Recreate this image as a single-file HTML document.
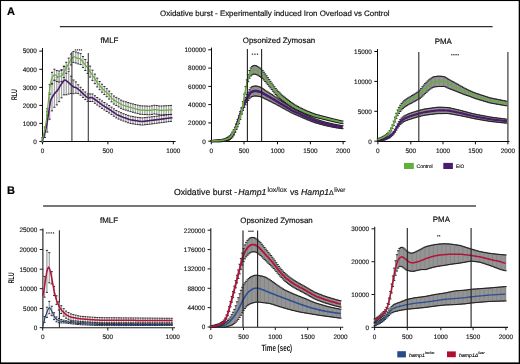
<!DOCTYPE html>
<html><head><meta charset="utf-8"><style>
html,body{margin:0;padding:0;background:#fff;}
body{width:520px;height:364px;overflow:hidden;font-family:"Liberation Sans",sans-serif;}
svg{display:block;will-change:transform;}
</style></head><body>
<svg width="520" height="364" viewBox="0 0 520 364" font-family="'Liberation Sans', sans-serif" text-rendering="geometricPrecision">
<text x="7.00" y="14.50" font-size="11.00" text-anchor="start" font-weight="bold" fill="#000" stroke="#000" stroke-width="0.18" >A</text>
<text x="160.10" y="15.60" font-size="7.90" text-anchor="start" font-weight="normal" fill="#111" stroke="#111" stroke-width="0.18" textLength="229.5" lengthAdjust="spacingAndGlyphs">Oxidative burst - Experimentally induced Iron Overload vs Control</text>
<path d="M59.8,26.55H492.6" stroke="#2e2e2e" stroke-width="1.25"/>
<text x="109.40" y="42.70" font-size="7.90" text-anchor="middle" font-weight="normal" fill="#111" stroke="#111" stroke-width="0.18" >fMLF</text>
<text x="279.00" y="42.60" font-size="7.90" text-anchor="middle" font-weight="normal" fill="#111" stroke="#111" stroke-width="0.18" >Opsonized Zymosan</text>
<text x="443.20" y="43.60" font-size="7.90" text-anchor="middle" font-weight="normal" fill="#111" stroke="#111" stroke-width="0.18" >PMA</text>
<path d="M42.50,48.10V142.00" stroke="#0a0a0a" stroke-width="1.0" fill="none"/>
<path d="M42.00,141.50H175.60" stroke="#0a0a0a" stroke-width="1.0" fill="none"/>
<path d="M39.30,141.40H42.50M39.30,123.40H42.50M39.30,105.40H42.50M39.30,87.40H42.50M39.30,69.30H42.50M39.30,51.10H42.50" stroke="#0a0a0a" stroke-width="1.0" fill="none"/>
<path d="M42.50,141.50V144.30M107.90,141.50V144.30M173.30,141.50V144.30" stroke="#0a0a0a" stroke-width="1.0" fill="none"/>
<text x="36.90" y="143.70" font-size="6.40" text-anchor="end" font-weight="normal" fill="#1a1a1a" stroke="#1a1a1a" stroke-width="0.15" >0</text>
<text x="36.90" y="125.70" font-size="6.40" text-anchor="end" font-weight="normal" fill="#1a1a1a" stroke="#1a1a1a" stroke-width="0.15" >1000</text>
<text x="36.90" y="107.70" font-size="6.40" text-anchor="end" font-weight="normal" fill="#1a1a1a" stroke="#1a1a1a" stroke-width="0.15" >2000</text>
<text x="36.90" y="89.70" font-size="6.40" text-anchor="end" font-weight="normal" fill="#1a1a1a" stroke="#1a1a1a" stroke-width="0.15" >3000</text>
<text x="36.90" y="71.60" font-size="6.40" text-anchor="end" font-weight="normal" fill="#1a1a1a" stroke="#1a1a1a" stroke-width="0.15" >4000</text>
<text x="36.90" y="53.40" font-size="6.40" text-anchor="end" font-weight="normal" fill="#1a1a1a" stroke="#1a1a1a" stroke-width="0.15" >5000</text>
<text x="42.50" y="153.00" font-size="6.40" text-anchor="middle" font-weight="normal" fill="#1a1a1a" stroke="#1a1a1a" stroke-width="0.15" >0</text>
<text x="107.90" y="153.00" font-size="6.40" text-anchor="middle" font-weight="normal" fill="#1a1a1a" stroke="#1a1a1a" stroke-width="0.15" >500</text>
<text x="173.30" y="153.00" font-size="6.40" text-anchor="middle" font-weight="normal" fill="#1a1a1a" stroke="#1a1a1a" stroke-width="0.15" >1000</text>
<path d="M42.50,137.75V142.16M44.88,128.07V137.52M47.26,111.36V132.07M49.64,92.95V119.22M52.02,84.16V110.83M54.40,80.24V107.31M56.78,77.45V104.91M59.16,73.80V101.66M61.54,69.63V97.89M63.92,66.17V94.82M66.30,66.76V94.84M68.68,71.26V94.09M71.06,76.16V93.53M73.44,80.00V93.72M75.82,81.87V93.14M78.20,84.78V93.62M80.58,87.29V95.20M82.96,89.65V97.42M85.34,91.95V99.59M87.72,93.88V101.46M90.10,93.90V101.47M92.48,94.01V101.57M94.86,95.75V103.29M97.24,97.51V105.03M99.62,99.22V106.73M102.00,100.94V108.43M104.38,102.53V110.00M106.76,104.04V111.49M109.14,105.54V112.98M111.52,107.15V114.58M113.90,108.83V116.23M116.28,110.50V117.89M118.66,111.70V119.08M121.04,112.70V120.06M123.42,113.68V121.02M125.80,114.54V121.86M128.18,115.40V122.70M130.56,116.14V123.44M132.94,116.57V123.84M135.32,116.98V124.24M137.70,117.36V124.60M140.08,117.66V124.88M142.46,117.83V125.04M144.84,117.58V124.78M147.22,117.32V124.50M149.60,117.06V124.22M151.98,116.77V123.92M154.36,116.47V123.60M156.74,116.17V123.28M159.12,115.87V122.96M161.50,115.56V122.64M163.88,115.26V122.32M166.26,114.96V122.00M168.64,114.66V121.69M171.02,114.35V121.37" stroke="#c0c0c0" stroke-width="1.3" fill="none"/>
<path d="M42.50,137.75V142.16M44.88,128.07V137.52M47.26,111.36V132.07M49.64,92.95V119.22M52.02,84.16V110.83M54.40,80.24V107.31M56.78,77.45V104.91M59.16,73.80V101.66M61.54,69.63V97.89M63.92,66.17V94.82M66.30,66.76V94.84M68.68,71.26V94.09M71.06,76.16V93.53M73.44,80.00V93.72M75.82,81.87V93.14M78.20,84.78V93.62M80.58,87.29V95.20M82.96,89.65V97.42M85.34,91.95V99.59M87.72,93.88V101.46M90.10,93.90V101.47M92.48,94.01V101.57M94.86,95.75V103.29M97.24,97.51V105.03M99.62,99.22V106.73M102.00,100.94V108.43M104.38,102.53V110.00M106.76,104.04V111.49M109.14,105.54V112.98M111.52,107.15V114.58M113.90,108.83V116.23M116.28,110.50V117.89M118.66,111.70V119.08M121.04,112.70V120.06M123.42,113.68V121.02M125.80,114.54V121.86M128.18,115.40V122.70M130.56,116.14V123.44M132.94,116.57V123.84M135.32,116.98V124.24M137.70,117.36V124.60M140.08,117.66V124.88M142.46,117.83V125.04M144.84,117.58V124.78M147.22,117.32V124.50M149.60,117.06V124.22M151.98,116.77V123.92M154.36,116.47V123.60M156.74,116.17V123.28M159.12,115.87V122.96M161.50,115.56V122.64M163.88,115.26V122.32M166.26,114.96V122.00M168.64,114.66V121.69M171.02,114.35V121.37" stroke="#6a6a6a" stroke-width="0.35" fill="none"/>
<path d="M41.45,137.75h2.10M41.45,142.16h2.10M43.83,128.07h2.10M43.83,137.52h2.10M46.21,111.36h2.10M46.21,132.07h2.10M48.59,92.95h2.10M48.59,119.22h2.10M50.97,84.16h2.10M50.97,110.83h2.10M53.35,80.24h2.10M53.35,107.31h2.10M55.73,77.45h2.10M55.73,104.91h2.10M58.11,73.80h2.10M58.11,101.66h2.10M60.49,69.63h2.10M60.49,97.89h2.10M62.87,66.17h2.10M62.87,94.82h2.10M65.25,66.76h2.10M65.25,94.84h2.10M67.63,71.26h2.10M67.63,94.09h2.10M70.01,76.16h2.10M70.01,93.53h2.10M72.39,80.00h2.10M72.39,93.72h2.10M74.77,81.87h2.10M74.77,93.14h2.10M77.15,84.78h2.10M77.15,93.62h2.10M79.53,87.29h2.10M79.53,95.20h2.10M81.91,89.65h2.10M81.91,97.42h2.10M84.29,91.95h2.10M84.29,99.59h2.10M86.67,93.88h2.10M86.67,101.46h2.10M89.05,93.90h2.10M89.05,101.47h2.10M91.43,94.01h2.10M91.43,101.57h2.10M93.81,95.75h2.10M93.81,103.29h2.10M96.19,97.51h2.10M96.19,105.03h2.10M98.57,99.22h2.10M98.57,106.73h2.10M100.95,100.94h2.10M100.95,108.43h2.10M103.33,102.53h2.10M103.33,110.00h2.10M105.71,104.04h2.10M105.71,111.49h2.10M108.09,105.54h2.10M108.09,112.98h2.10M110.47,107.15h2.10M110.47,114.58h2.10M112.85,108.83h2.10M112.85,116.23h2.10M115.23,110.50h2.10M115.23,117.89h2.10M117.61,111.70h2.10M117.61,119.08h2.10M119.99,112.70h2.10M119.99,120.06h2.10M122.37,113.68h2.10M122.37,121.02h2.10M124.75,114.54h2.10M124.75,121.86h2.10M127.13,115.40h2.10M127.13,122.70h2.10M129.51,116.14h2.10M129.51,123.44h2.10M131.89,116.57h2.10M131.89,123.84h2.10M134.27,116.98h2.10M134.27,124.24h2.10M136.65,117.36h2.10M136.65,124.60h2.10M139.03,117.66h2.10M139.03,124.88h2.10M141.41,117.83h2.10M141.41,125.04h2.10M143.79,117.58h2.10M143.79,124.78h2.10M146.17,117.32h2.10M146.17,124.50h2.10M148.55,117.06h2.10M148.55,124.22h2.10M150.93,116.77h2.10M150.93,123.92h2.10M153.31,116.47h2.10M153.31,123.60h2.10M155.69,116.17h2.10M155.69,123.28h2.10M158.07,115.87h2.10M158.07,122.96h2.10M160.45,115.56h2.10M160.45,122.64h2.10M162.83,115.26h2.10M162.83,122.32h2.10M165.21,114.96h2.10M165.21,122.00h2.10M167.59,114.66h2.10M167.59,121.69h2.10M169.97,114.35h2.10M169.97,121.37h2.10" stroke="#1a1a1a" stroke-width="0.9" fill="none"/>
<path d="M42.50,139.95 L43.50,137.47 L44.50,134.16 L45.50,130.50 L46.50,126.02 L47.50,120.30 L48.50,114.01 L49.50,107.01 L50.50,101.09 L51.50,98.39 L52.50,96.73 L53.50,95.15 L54.50,93.63 L55.50,92.44 L56.50,91.46 L57.50,90.40 L58.50,88.88 L59.50,87.14 L60.50,85.39 L61.50,83.82 L62.50,82.42 L63.50,81.03 L64.50,79.97 L65.50,80.20 L66.50,80.95 L67.50,81.71 L68.50,82.52 L69.50,83.41 L70.50,84.33 L71.50,85.25 L72.50,86.17 L73.50,86.90 L74.50,87.17 L75.50,87.37 L76.50,87.89 L77.50,88.65 L78.50,89.44 L79.50,90.25 L80.50,91.17 L81.50,92.13 L82.50,93.09 L83.50,94.06 L84.50,95.01 L85.50,95.91 L86.50,96.75 L87.50,97.55 L88.50,97.89 L89.50,97.77 L90.50,97.63 L91.50,97.50 L92.50,97.80 L93.50,98.51 L94.50,99.25 L95.50,99.99 L96.50,100.73 L97.50,101.46 L98.50,102.17 L99.50,102.89 L100.50,103.61 L101.50,104.32 L102.50,105.04 L103.50,105.71 L104.50,106.34 L105.50,106.97 L106.50,107.60 L107.50,108.23 L108.50,108.86 L109.50,109.49 L110.50,110.15 L111.50,110.85 L112.50,111.55 L113.50,112.25 L114.50,112.95 L115.50,113.65 L116.50,114.34 L117.50,114.90 L118.50,115.32 L119.50,115.74 L120.50,116.16 L121.50,116.57 L122.50,116.99 L123.50,117.38 L124.50,117.74 L125.50,118.09 L126.50,118.45 L127.50,118.81 L128.50,119.16 L129.50,119.52 L130.50,119.78 L131.50,119.96 L132.50,120.13 L133.50,120.30 L134.50,120.47 L135.50,120.64 L136.50,120.81 L137.50,120.96 L138.50,121.08 L139.50,121.20 L140.50,121.32 L141.50,121.43 L142.50,121.44 L143.50,121.33 L144.50,121.22 L145.50,121.11 L146.50,120.99 L147.50,120.88 L148.50,120.77 L149.50,120.66 L150.50,120.53 L151.50,120.40 L152.50,120.27 L153.50,120.14 L154.50,120.01 L155.50,119.89 L156.50,119.76 L157.50,119.63 L158.50,119.49 L159.50,119.36 L160.50,119.23 L161.50,119.10 L162.50,118.97 L163.50,118.84 L164.50,118.71 L165.50,118.58 L166.50,118.45 L167.50,118.32 L168.50,118.19 L169.50,118.06 L170.50,117.93 L171.50,117.80 L172.50,117.67" stroke="#4b1c6c" stroke-width="1.6" fill="none" stroke-linejoin="round"/>
<path d="M42.50,138.04V140.14M44.88,126.92V130.29M47.26,108.77V115.27M49.64,84.73V94.37M52.02,72.34V83.33M54.40,69.19V80.19M56.78,70.56V81.56M59.16,71.01V82.01M61.54,70.37V81.37M63.92,66.55V77.55M66.30,62.29V73.29M68.68,58.10V69.10M71.06,54.01V65.01M73.44,51.41V62.41M75.82,52.00V63.00M78.20,52.86V63.86M80.58,53.59V64.59M82.96,56.57V67.57M85.34,59.51V70.51M87.72,62.44V73.44M90.10,66.09V77.01M92.48,70.15V80.41M94.86,74.11V83.65M97.24,78.13V86.96M99.62,81.56V89.69M102.00,84.20V92.20M104.38,86.56V94.56M106.76,88.70V96.70M109.14,91.08V99.08M111.52,93.79V101.82M113.90,95.99V104.06M116.28,97.38V105.48M118.66,98.76V106.90M121.04,100.15V108.32M123.42,101.14V109.35M125.80,101.86V110.11M128.18,102.59V110.88M130.56,103.29V111.61M132.94,103.91V112.28M135.32,104.54V112.94M137.70,105.16V113.60M140.08,105.73V114.21M142.46,105.87V114.38M144.84,105.97V114.52M147.22,106.07V114.66M149.60,106.15V114.78M151.98,105.77V114.44M154.36,105.29V113.99M156.74,105.48V114.22M159.12,105.93V114.71M161.50,106.01V114.83M163.88,105.86V114.72M166.26,105.72V114.61M168.64,105.57V114.50M171.02,105.42V114.39" stroke="#c0c0c0" stroke-width="1.3" fill="none"/>
<path d="M42.50,138.04V140.14M44.88,126.92V130.29M47.26,108.77V115.27M49.64,84.73V94.37M52.02,72.34V83.33M54.40,69.19V80.19M56.78,70.56V81.56M59.16,71.01V82.01M61.54,70.37V81.37M63.92,66.55V77.55M66.30,62.29V73.29M68.68,58.10V69.10M71.06,54.01V65.01M73.44,51.41V62.41M75.82,52.00V63.00M78.20,52.86V63.86M80.58,53.59V64.59M82.96,56.57V67.57M85.34,59.51V70.51M87.72,62.44V73.44M90.10,66.09V77.01M92.48,70.15V80.41M94.86,74.11V83.65M97.24,78.13V86.96M99.62,81.56V89.69M102.00,84.20V92.20M104.38,86.56V94.56M106.76,88.70V96.70M109.14,91.08V99.08M111.52,93.79V101.82M113.90,95.99V104.06M116.28,97.38V105.48M118.66,98.76V106.90M121.04,100.15V108.32M123.42,101.14V109.35M125.80,101.86V110.11M128.18,102.59V110.88M130.56,103.29V111.61M132.94,103.91V112.28M135.32,104.54V112.94M137.70,105.16V113.60M140.08,105.73V114.21M142.46,105.87V114.38M144.84,105.97V114.52M147.22,106.07V114.66M149.60,106.15V114.78M151.98,105.77V114.44M154.36,105.29V113.99M156.74,105.48V114.22M159.12,105.93V114.71M161.50,106.01V114.83M163.88,105.86V114.72M166.26,105.72V114.61M168.64,105.57V114.50M171.02,105.42V114.39" stroke="#6a6a6a" stroke-width="0.35" fill="none"/>
<path d="M41.45,138.04h2.10M41.45,140.14h2.10M43.83,126.92h2.10M43.83,130.29h2.10M46.21,108.77h2.10M46.21,115.27h2.10M48.59,84.73h2.10M48.59,94.37h2.10M50.97,72.34h2.10M50.97,83.33h2.10M53.35,69.19h2.10M53.35,80.19h2.10M55.73,70.56h2.10M55.73,81.56h2.10M58.11,71.01h2.10M58.11,82.01h2.10M60.49,70.37h2.10M60.49,81.37h2.10M62.87,66.55h2.10M62.87,77.55h2.10M65.25,62.29h2.10M65.25,73.29h2.10M67.63,58.10h2.10M67.63,69.10h2.10M70.01,54.01h2.10M70.01,65.01h2.10M72.39,51.41h2.10M72.39,62.41h2.10M74.77,52.00h2.10M74.77,63.00h2.10M77.15,52.86h2.10M77.15,63.86h2.10M79.53,53.59h2.10M79.53,64.59h2.10M81.91,56.57h2.10M81.91,67.57h2.10M84.29,59.51h2.10M84.29,70.51h2.10M86.67,62.44h2.10M86.67,73.44h2.10M89.05,66.09h2.10M89.05,77.01h2.10M91.43,70.15h2.10M91.43,80.41h2.10M93.81,74.11h2.10M93.81,83.65h2.10M96.19,78.13h2.10M96.19,86.96h2.10M98.57,81.56h2.10M98.57,89.69h2.10M100.95,84.20h2.10M100.95,92.20h2.10M103.33,86.56h2.10M103.33,94.56h2.10M105.71,88.70h2.10M105.71,96.70h2.10M108.09,91.08h2.10M108.09,99.08h2.10M110.47,93.79h2.10M110.47,101.82h2.10M112.85,95.99h2.10M112.85,104.06h2.10M115.23,97.38h2.10M115.23,105.48h2.10M117.61,98.76h2.10M117.61,106.90h2.10M119.99,100.15h2.10M119.99,108.32h2.10M122.37,101.14h2.10M122.37,109.35h2.10M124.75,101.86h2.10M124.75,110.11h2.10M127.13,102.59h2.10M127.13,110.88h2.10M129.51,103.29h2.10M129.51,111.61h2.10M131.89,103.91h2.10M131.89,112.28h2.10M134.27,104.54h2.10M134.27,112.94h2.10M136.65,105.16h2.10M136.65,113.60h2.10M139.03,105.73h2.10M139.03,114.21h2.10M141.41,105.87h2.10M141.41,114.38h2.10M143.79,105.97h2.10M143.79,114.52h2.10M146.17,106.07h2.10M146.17,114.66h2.10M148.55,106.15h2.10M148.55,114.78h2.10M150.93,105.77h2.10M150.93,114.44h2.10M153.31,105.29h2.10M153.31,113.99h2.10M155.69,105.48h2.10M155.69,114.22h2.10M158.07,105.93h2.10M158.07,114.71h2.10M160.45,106.01h2.10M160.45,114.83h2.10M162.83,105.86h2.10M162.83,114.72h2.10M165.21,105.72h2.10M165.21,114.61h2.10M167.59,105.57h2.10M167.59,114.50h2.10M169.97,105.42h2.10M169.97,114.39h2.10" stroke="#1a1a1a" stroke-width="0.9" fill="none"/>
<path d="M42.50,139.09 L43.50,135.06 L44.50,130.37 L45.50,125.64 L46.50,119.06 L47.50,109.69 L48.50,99.92 L49.50,90.65 L50.50,83.63 L51.50,79.14 L52.50,77.03 L53.50,75.55 L54.50,74.62 L55.50,75.07 L56.50,75.85 L57.50,76.52 L58.50,76.63 L59.50,76.45 L60.50,76.25 L61.50,75.91 L62.50,74.66 L63.50,72.83 L64.50,70.99 L65.50,69.20 L66.50,67.44 L67.50,65.68 L68.50,63.92 L69.50,62.16 L70.50,60.42 L71.50,58.88 L72.50,57.75 L73.50,56.86 L74.50,56.81 L75.50,57.33 L76.50,57.86 L77.50,58.24 L78.50,58.41 L79.50,58.57 L80.50,59.01 L81.50,60.16 L82.50,61.47 L83.50,62.76 L84.50,63.99 L85.50,65.21 L86.50,66.43 L87.50,67.65 L88.50,69.02 L89.50,70.59 L90.50,72.19 L91.50,73.78 L92.50,75.31 L93.50,76.82 L94.50,78.34 L95.50,79.86 L96.50,81.40 L97.50,82.95 L98.50,84.36 L99.50,85.50 L100.50,86.58 L101.50,87.66 L102.50,88.74 L103.50,89.75 L104.50,90.67 L105.50,91.57 L106.50,92.47 L107.50,93.37 L108.50,94.37 L109.50,95.49 L110.50,96.64 L111.50,97.78 L112.50,98.91 L113.50,99.78 L114.50,100.38 L115.50,100.97 L116.50,101.56 L117.50,102.15 L118.50,102.74 L119.50,103.33 L120.50,103.92 L121.50,104.50 L122.50,104.95 L123.50,105.27 L124.50,105.58 L125.50,105.89 L126.50,106.21 L127.50,106.52 L128.50,106.83 L129.50,107.14 L130.50,107.43 L131.50,107.70 L132.50,107.98 L133.50,108.24 L134.50,108.52 L135.50,108.79 L136.50,109.05 L137.50,109.33 L138.50,109.59 L139.50,109.86 L140.50,110.02 L141.50,110.07 L142.50,110.13 L143.50,110.17 L144.50,110.22 L145.50,110.28 L146.50,110.33 L147.50,110.38 L148.50,110.42 L149.50,110.47 L150.50,110.39 L151.50,110.20 L152.50,110.00 L153.50,109.80 L154.50,109.61 L155.50,109.61 L156.50,109.80 L157.50,110.00 L158.50,110.20 L159.50,110.39 L160.50,110.47 L161.50,110.42 L162.50,110.37 L163.50,110.31 L164.50,110.26 L165.50,110.20 L166.50,110.15 L167.50,110.10 L168.50,110.04 L169.50,109.99 L170.50,109.93 L171.50,109.88 L172.50,109.83" stroke="#64ae3d" stroke-width="1.2" fill="none" stroke-linejoin="round"/>
<path d="M71.90,52.00V141.00" stroke="#3a3a3a" stroke-width="1.1" fill="none"/>
<path d="M88.30,53.00V141.00" stroke="#3a3a3a" stroke-width="1.1" fill="none"/>
<rect x="74.85" y="49.25" width="1.3" height="1.3" fill="#333"/>
<rect x="76.85" y="49.25" width="1.3" height="1.3" fill="#333"/>
<rect x="78.85" y="49.25" width="1.3" height="1.3" fill="#333"/>
<rect x="80.85" y="49.25" width="1.3" height="1.3" fill="#333"/>
<path d="M211.50,47.60V142.00" stroke="#0a0a0a" stroke-width="1.0" fill="none"/>
<path d="M211.00,141.50H345.60" stroke="#0a0a0a" stroke-width="1.0" fill="none"/>
<path d="M208.30,141.20H211.50M208.30,122.90H211.50M208.30,104.60H211.50M208.30,86.40H211.50M208.30,68.10H211.50M208.30,49.80H211.50" stroke="#0a0a0a" stroke-width="1.0" fill="none"/>
<path d="M211.30,141.50V144.30M244.00,141.50V144.30M277.50,141.50V144.30M310.40,141.50V144.30M343.10,141.50V144.30" stroke="#0a0a0a" stroke-width="1.0" fill="none"/>
<text x="205.90" y="143.50" font-size="6.40" text-anchor="end" font-weight="normal" fill="#1a1a1a" stroke="#1a1a1a" stroke-width="0.15" >0</text>
<text x="205.90" y="125.20" font-size="6.40" text-anchor="end" font-weight="normal" fill="#1a1a1a" stroke="#1a1a1a" stroke-width="0.15" >20000</text>
<text x="205.90" y="106.90" font-size="6.40" text-anchor="end" font-weight="normal" fill="#1a1a1a" stroke="#1a1a1a" stroke-width="0.15" >40000</text>
<text x="205.90" y="88.70" font-size="6.40" text-anchor="end" font-weight="normal" fill="#1a1a1a" stroke="#1a1a1a" stroke-width="0.15" >60000</text>
<text x="205.90" y="70.40" font-size="6.40" text-anchor="end" font-weight="normal" fill="#1a1a1a" stroke="#1a1a1a" stroke-width="0.15" >80000</text>
<text x="205.90" y="52.10" font-size="6.40" text-anchor="end" font-weight="normal" fill="#1a1a1a" stroke="#1a1a1a" stroke-width="0.15" >100000</text>
<text x="211.30" y="153.00" font-size="6.40" text-anchor="middle" font-weight="normal" fill="#1a1a1a" stroke="#1a1a1a" stroke-width="0.15" >0</text>
<text x="244.00" y="153.00" font-size="6.40" text-anchor="middle" font-weight="normal" fill="#1a1a1a" stroke="#1a1a1a" stroke-width="0.15" >500</text>
<text x="277.50" y="153.00" font-size="6.40" text-anchor="middle" font-weight="normal" fill="#1a1a1a" stroke="#1a1a1a" stroke-width="0.15" >1000</text>
<text x="310.40" y="153.00" font-size="6.40" text-anchor="middle" font-weight="normal" fill="#1a1a1a" stroke="#1a1a1a" stroke-width="0.15" >1500</text>
<text x="343.10" y="153.00" font-size="6.40" text-anchor="middle" font-weight="normal" fill="#1a1a1a" stroke="#1a1a1a" stroke-width="0.15" >2000</text>
<path d="M211.50,140.67V141.70M212.81,140.60V141.70M214.12,140.50V141.70M215.43,140.40V141.70M216.74,140.31V141.69M218.05,140.21V141.69M219.36,140.11V141.69M220.67,140.00V141.68M221.98,139.85V141.63M223.29,139.60V141.47M224.60,139.27V141.29M225.91,138.85V141.13M227.22,138.20V140.83M228.53,137.27V140.28M229.84,136.15V139.53M231.15,134.72V138.47M232.46,132.94V137.02M233.77,130.70V135.05M235.08,127.63V132.25M236.39,123.76V128.63M237.70,119.52V124.66M239.01,115.41V120.83M240.32,111.47V117.22M241.63,107.60V113.76M242.94,103.81V110.41M244.25,100.31V107.37M245.56,97.32V104.82M246.87,94.60V102.58M248.18,92.05V100.53M249.49,89.70V98.70M250.80,87.78V97.28M252.11,86.71V96.57M253.42,86.28V96.26M254.73,86.03V96.03M256.04,86.00V96.00M257.35,86.23V96.19M258.66,86.57V96.41M259.97,87.00V96.61M261.28,87.62V96.96M262.59,88.46V97.54M263.90,89.40V98.22M265.21,90.30V98.89M266.52,91.16V99.54M267.83,91.99V100.18M269.14,92.82V100.82M270.45,93.67V101.47M271.76,94.52V102.13M273.07,95.38V102.80M274.38,96.24V103.47M275.69,97.11V104.14M277.00,98.00V104.84M278.31,98.91V105.56M279.62,99.81V106.28M280.93,100.68V107.01M282.24,101.51V107.73M283.55,102.32V108.44M284.86,103.13V109.15M286.17,103.96V109.86M287.48,104.79V110.59M288.79,105.63V111.32M290.10,106.45V112.05M291.41,107.24V112.73M292.72,107.97V113.35M294.03,108.68V113.95M295.34,109.38V114.55M296.65,110.06V115.13M297.96,110.72V115.68M299.27,111.37V116.24M300.58,112.03V116.80M301.89,112.69V117.37M303.20,113.35V117.96M304.51,114.02V118.55M305.82,114.67V119.12M307.13,115.29V119.66M308.44,115.88V120.18M309.75,116.48V120.69M311.06,117.07V121.20M312.37,117.66V121.72M313.68,118.25V122.23M314.99,118.80V122.70M316.30,119.27V123.10M317.61,119.71V123.45M318.92,120.14V123.81M320.23,120.57V124.17M321.54,120.98V124.54M322.85,121.39V124.92M324.16,121.79V125.28M325.47,122.16V125.62M326.78,122.48V125.90M328.09,122.79V126.17M329.40,123.09V126.45M330.71,123.40V126.72M332.02,123.70V126.99M333.33,124.01V127.26M334.64,124.30V127.52M335.95,124.56V127.74M337.26,124.79V127.94M338.57,125.02V128.14M339.88,125.25V128.33M341.19,125.48V128.53M342.50,125.68V128.70" stroke="#b2b2b2" stroke-width="1.35" fill="none"/>
<path d="M211.50,140.67V141.70M212.81,140.60V141.70M214.12,140.50V141.70M215.43,140.40V141.70M216.74,140.31V141.69M218.05,140.21V141.69M219.36,140.11V141.69M220.67,140.00V141.68M221.98,139.85V141.63M223.29,139.60V141.47M224.60,139.27V141.29M225.91,138.85V141.13M227.22,138.20V140.83M228.53,137.27V140.28M229.84,136.15V139.53M231.15,134.72V138.47M232.46,132.94V137.02M233.77,130.70V135.05M235.08,127.63V132.25M236.39,123.76V128.63M237.70,119.52V124.66M239.01,115.41V120.83M240.32,111.47V117.22M241.63,107.60V113.76M242.94,103.81V110.41M244.25,100.31V107.37M245.56,97.32V104.82M246.87,94.60V102.58M248.18,92.05V100.53M249.49,89.70V98.70M250.80,87.78V97.28M252.11,86.71V96.57M253.42,86.28V96.26M254.73,86.03V96.03M256.04,86.00V96.00M257.35,86.23V96.19M258.66,86.57V96.41M259.97,87.00V96.61M261.28,87.62V96.96M262.59,88.46V97.54M263.90,89.40V98.22M265.21,90.30V98.89M266.52,91.16V99.54M267.83,91.99V100.18M269.14,92.82V100.82M270.45,93.67V101.47M271.76,94.52V102.13M273.07,95.38V102.80M274.38,96.24V103.47M275.69,97.11V104.14M277.00,98.00V104.84M278.31,98.91V105.56M279.62,99.81V106.28M280.93,100.68V107.01M282.24,101.51V107.73M283.55,102.32V108.44M284.86,103.13V109.15M286.17,103.96V109.86M287.48,104.79V110.59M288.79,105.63V111.32M290.10,106.45V112.05M291.41,107.24V112.73M292.72,107.97V113.35M294.03,108.68V113.95M295.34,109.38V114.55M296.65,110.06V115.13M297.96,110.72V115.68M299.27,111.37V116.24M300.58,112.03V116.80M301.89,112.69V117.37M303.20,113.35V117.96M304.51,114.02V118.55M305.82,114.67V119.12M307.13,115.29V119.66M308.44,115.88V120.18M309.75,116.48V120.69M311.06,117.07V121.20M312.37,117.66V121.72M313.68,118.25V122.23M314.99,118.80V122.70M316.30,119.27V123.10M317.61,119.71V123.45M318.92,120.14V123.81M320.23,120.57V124.17M321.54,120.98V124.54M322.85,121.39V124.92M324.16,121.79V125.28M325.47,122.16V125.62M326.78,122.48V125.90M328.09,122.79V126.17M329.40,123.09V126.45M330.71,123.40V126.72M332.02,123.70V126.99M333.33,124.01V127.26M334.64,124.30V127.52M335.95,124.56V127.74M337.26,124.79V127.94M338.57,125.02V128.14M339.88,125.25V128.33M341.19,125.48V128.53M342.50,125.68V128.70" stroke="#4a4a4a" stroke-width="0.42" fill="none"/>
<path d="M210.40,140.67h2.20M210.40,141.70h2.20M211.71,140.60h2.20M211.71,141.70h2.20M213.02,140.50h2.20M213.02,141.70h2.20M214.33,140.40h2.20M214.33,141.70h2.20M215.64,140.31h2.20M215.64,141.69h2.20M216.95,140.21h2.20M216.95,141.69h2.20M218.26,140.11h2.20M218.26,141.69h2.20M219.57,140.00h2.20M219.57,141.68h2.20M220.88,139.85h2.20M220.88,141.63h2.20M222.19,139.60h2.20M222.19,141.47h2.20M223.50,139.27h2.20M223.50,141.29h2.20M224.81,138.85h2.20M224.81,141.13h2.20M226.12,138.20h2.20M226.12,140.83h2.20M227.43,137.27h2.20M227.43,140.28h2.20M228.74,136.15h2.20M228.74,139.53h2.20M230.05,134.72h2.20M230.05,138.47h2.20M231.36,132.94h2.20M231.36,137.02h2.20M232.67,130.70h2.20M232.67,135.05h2.20M233.98,127.63h2.20M233.98,132.25h2.20M235.29,123.76h2.20M235.29,128.63h2.20M236.60,119.52h2.20M236.60,124.66h2.20M237.91,115.41h2.20M237.91,120.83h2.20M239.22,111.47h2.20M239.22,117.22h2.20M240.53,107.60h2.20M240.53,113.76h2.20M241.84,103.81h2.20M241.84,110.41h2.20M243.15,100.31h2.20M243.15,107.37h2.20M244.46,97.32h2.20M244.46,104.82h2.20M245.77,94.60h2.20M245.77,102.58h2.20M247.08,92.05h2.20M247.08,100.53h2.20M248.39,89.70h2.20M248.39,98.70h2.20M249.70,87.78h2.20M249.70,97.28h2.20M251.01,86.71h2.20M251.01,96.57h2.20M252.32,86.28h2.20M252.32,96.26h2.20M253.63,86.03h2.20M253.63,96.03h2.20M254.94,86.00h2.20M254.94,96.00h2.20M256.25,86.23h2.20M256.25,96.19h2.20M257.56,86.57h2.20M257.56,96.41h2.20M258.87,87.00h2.20M258.87,96.61h2.20M260.18,87.62h2.20M260.18,96.96h2.20M261.49,88.46h2.20M261.49,97.54h2.20M262.80,89.40h2.20M262.80,98.22h2.20M264.11,90.30h2.20M264.11,98.89h2.20M265.42,91.16h2.20M265.42,99.54h2.20M266.73,91.99h2.20M266.73,100.18h2.20M268.04,92.82h2.20M268.04,100.82h2.20M269.35,93.67h2.20M269.35,101.47h2.20M270.66,94.52h2.20M270.66,102.13h2.20M271.97,95.38h2.20M271.97,102.80h2.20M273.28,96.24h2.20M273.28,103.47h2.20M274.59,97.11h2.20M274.59,104.14h2.20M275.90,98.00h2.20M275.90,104.84h2.20M277.21,98.91h2.20M277.21,105.56h2.20M278.52,99.81h2.20M278.52,106.28h2.20M279.83,100.68h2.20M279.83,107.01h2.20M281.14,101.51h2.20M281.14,107.73h2.20M282.45,102.32h2.20M282.45,108.44h2.20M283.76,103.13h2.20M283.76,109.15h2.20M285.07,103.96h2.20M285.07,109.86h2.20M286.38,104.79h2.20M286.38,110.59h2.20M287.69,105.63h2.20M287.69,111.32h2.20M289.00,106.45h2.20M289.00,112.05h2.20M290.31,107.24h2.20M290.31,112.73h2.20M291.62,107.97h2.20M291.62,113.35h2.20M292.93,108.68h2.20M292.93,113.95h2.20M294.24,109.38h2.20M294.24,114.55h2.20M295.55,110.06h2.20M295.55,115.13h2.20M296.86,110.72h2.20M296.86,115.68h2.20M298.17,111.37h2.20M298.17,116.24h2.20M299.48,112.03h2.20M299.48,116.80h2.20M300.79,112.69h2.20M300.79,117.37h2.20M302.10,113.35h2.20M302.10,117.96h2.20M303.41,114.02h2.20M303.41,118.55h2.20M304.72,114.67h2.20M304.72,119.12h2.20M306.03,115.29h2.20M306.03,119.66h2.20M307.34,115.88h2.20M307.34,120.18h2.20M308.65,116.48h2.20M308.65,120.69h2.20M309.96,117.07h2.20M309.96,121.20h2.20M311.27,117.66h2.20M311.27,121.72h2.20M312.58,118.25h2.20M312.58,122.23h2.20M313.89,118.80h2.20M313.89,122.70h2.20M315.20,119.27h2.20M315.20,123.10h2.20M316.51,119.71h2.20M316.51,123.45h2.20M317.82,120.14h2.20M317.82,123.81h2.20M319.13,120.57h2.20M319.13,124.17h2.20M320.44,120.98h2.20M320.44,124.54h2.20M321.75,121.39h2.20M321.75,124.92h2.20M323.06,121.79h2.20M323.06,125.28h2.20M324.37,122.16h2.20M324.37,125.62h2.20M325.68,122.48h2.20M325.68,125.90h2.20M326.99,122.79h2.20M326.99,126.17h2.20M328.30,123.09h2.20M328.30,126.45h2.20M329.61,123.40h2.20M329.61,126.72h2.20M330.92,123.70h2.20M330.92,126.99h2.20M332.23,124.01h2.20M332.23,127.26h2.20M333.54,124.30h2.20M333.54,127.52h2.20M334.85,124.56h2.20M334.85,127.74h2.20M336.16,124.79h2.20M336.16,127.94h2.20M337.47,125.02h2.20M337.47,128.14h2.20M338.78,125.25h2.20M338.78,128.33h2.20M340.09,125.48h2.20M340.09,128.53h2.20M341.40,125.68h2.20M341.40,128.70h2.20" stroke="#1a1a1a" stroke-width="0.9" fill="none"/>
<path d="M211.50,141.19 L212.50,141.16 L213.50,141.12 L214.50,141.09 L215.50,141.05 L216.50,141.01 L217.50,140.97 L218.50,140.93 L219.50,140.89 L220.50,140.85 L221.50,140.79 L222.50,140.67 L223.50,140.50 L224.50,140.30 L225.50,140.09 L226.50,139.81 L227.50,139.38 L228.50,138.80 L229.50,138.11 L230.50,137.27 L231.50,136.20 L232.50,134.93 L233.50,133.38 L234.50,131.36 L235.50,128.82 L236.50,125.86 L237.50,122.71 L238.50,119.64 L239.50,116.69 L240.50,113.84 L241.50,111.04 L242.50,108.29 L243.50,105.65 L244.50,103.27 L245.50,101.19 L246.50,99.27 L247.50,97.45 L248.50,95.76 L249.50,94.19 L250.50,92.84 L251.50,91.94 L252.50,91.50 L253.50,91.25 L254.50,91.06 L255.50,90.97 L256.50,91.05 L257.50,91.24 L258.50,91.46 L259.50,91.68 L260.50,91.97 L261.50,92.39 L262.50,92.95 L263.50,93.56 L264.50,94.18 L265.50,94.77 L266.50,95.34 L267.50,95.90 L268.50,96.46 L269.50,97.02 L270.50,97.60 L271.50,98.18 L272.50,98.76 L273.50,99.34 L274.50,99.93 L275.50,100.52 L276.50,101.12 L277.50,101.73 L278.50,102.35 L279.50,102.97 L280.50,103.58 L281.50,104.18 L282.50,104.77 L283.50,105.35 L284.50,105.93 L285.50,106.51 L286.50,107.10 L287.50,107.70 L288.50,108.30 L289.50,108.90 L290.50,109.48 L291.50,110.03 L292.50,110.55 L293.50,111.05 L294.50,111.55 L295.50,112.04 L296.50,112.52 L297.50,112.99 L298.50,113.45 L299.50,113.91 L300.50,114.37 L301.50,114.84 L302.50,115.32 L303.50,115.80 L304.50,116.28 L305.50,116.75 L306.50,117.20 L307.50,117.63 L308.50,118.06 L309.50,118.48 L310.50,118.90 L311.50,119.32 L312.50,119.74 L313.50,120.16 L314.50,120.57 L315.50,120.93 L316.50,121.25 L317.50,121.55 L318.50,121.85 L319.50,122.15 L320.50,122.45 L321.50,122.75 L322.50,123.05 L323.50,123.35 L324.50,123.63 L325.50,123.89 L326.50,124.13 L327.50,124.35 L328.50,124.57 L329.50,124.79 L330.50,125.01 L331.50,125.23 L332.50,125.45 L333.50,125.67 L334.50,125.88 L335.50,126.07 L336.50,126.24 L337.50,126.41 L338.50,126.57 L339.50,126.73 L340.50,126.89 L341.50,127.05 L342.50,127.19" stroke="#4b1c6c" stroke-width="2.5" fill="none" stroke-linejoin="round"/>
<path d="M211.50,140.47V141.50M212.81,140.39V141.49M214.12,140.28V141.47M215.43,140.17V141.46M216.74,140.06V141.45M218.05,139.95V141.43M219.36,139.82V141.40M220.67,139.64V141.32M221.98,139.39V141.17M223.29,139.13V141.01M224.60,138.80V140.82M225.91,138.27V140.55M227.22,137.59V140.23M228.53,136.85V139.86M229.84,135.81V139.20M231.15,134.13V137.88M232.46,132.02V136.10M233.77,129.71V134.06M235.08,127.21V131.83M236.39,124.55V129.43M237.70,121.65V126.79M239.01,118.27V123.67M240.32,113.92V119.54M241.63,108.37V114.19M242.94,101.56V107.55M244.25,94.01V100.18M245.56,86.56V92.95M246.87,79.87V86.65M248.18,74.43V81.70M249.49,70.44V78.19M250.80,67.93V76.03M252.11,66.50V74.84M253.42,65.69V74.24M254.73,65.41V74.10M256.04,65.68V74.39M257.35,66.36V75.00M258.66,67.18V75.74M259.97,68.10V76.55M261.28,69.17V77.48M262.59,70.57V78.65M263.90,72.21V80.03M265.21,73.94V81.50M266.52,75.76V83.06M267.83,77.62V84.65M269.14,79.47V86.26M270.45,81.31V87.89M271.76,83.13V89.56M273.07,84.95V91.24M274.38,86.75V92.91M275.69,88.48V94.51M277.00,90.02V95.92M278.31,91.42V97.19M279.62,92.79V98.43M280.93,94.09V99.60M282.24,95.24V100.62M283.55,96.32V101.56M284.86,97.38V102.49M286.17,98.43V103.41M287.48,99.47V104.32M288.79,100.50V105.23M290.10,101.52V106.12M291.41,102.48V106.97M292.72,103.37V107.76M294.03,104.24V108.52M295.34,105.08V109.26M296.65,105.86V109.92M297.96,106.56V110.52M299.27,107.24V111.10M300.58,107.90V111.69M301.89,108.54V112.27M303.20,109.18V112.85M304.51,109.80V113.42M305.82,110.41V113.97M307.13,110.96V114.48M308.44,111.49V114.95M309.75,112.01V115.42M311.06,112.53V115.89M312.37,113.05V116.36M313.68,113.57V116.82M314.99,114.05V117.25M316.30,114.44V117.59M317.61,114.80V117.90M318.92,115.16V118.20M320.23,115.51V118.51M321.54,115.85V118.82M322.85,116.19V119.14M324.16,116.53V119.45M325.47,116.87V119.77M326.78,117.20V120.09M328.09,117.54V120.40M329.40,117.88V120.72M330.71,118.22V121.03M332.02,118.56V121.35M333.33,118.90V121.67M334.64,119.23V121.98M335.95,119.55V122.27M337.26,119.86V122.56M338.57,120.16V122.84M339.88,120.47V123.13M341.19,120.77V123.41M342.50,121.04V123.65" stroke="#b2b2b2" stroke-width="1.35" fill="none"/>
<path d="M211.50,140.47V141.50M212.81,140.39V141.49M214.12,140.28V141.47M215.43,140.17V141.46M216.74,140.06V141.45M218.05,139.95V141.43M219.36,139.82V141.40M220.67,139.64V141.32M221.98,139.39V141.17M223.29,139.13V141.01M224.60,138.80V140.82M225.91,138.27V140.55M227.22,137.59V140.23M228.53,136.85V139.86M229.84,135.81V139.20M231.15,134.13V137.88M232.46,132.02V136.10M233.77,129.71V134.06M235.08,127.21V131.83M236.39,124.55V129.43M237.70,121.65V126.79M239.01,118.27V123.67M240.32,113.92V119.54M241.63,108.37V114.19M242.94,101.56V107.55M244.25,94.01V100.18M245.56,86.56V92.95M246.87,79.87V86.65M248.18,74.43V81.70M249.49,70.44V78.19M250.80,67.93V76.03M252.11,66.50V74.84M253.42,65.69V74.24M254.73,65.41V74.10M256.04,65.68V74.39M257.35,66.36V75.00M258.66,67.18V75.74M259.97,68.10V76.55M261.28,69.17V77.48M262.59,70.57V78.65M263.90,72.21V80.03M265.21,73.94V81.50M266.52,75.76V83.06M267.83,77.62V84.65M269.14,79.47V86.26M270.45,81.31V87.89M271.76,83.13V89.56M273.07,84.95V91.24M274.38,86.75V92.91M275.69,88.48V94.51M277.00,90.02V95.92M278.31,91.42V97.19M279.62,92.79V98.43M280.93,94.09V99.60M282.24,95.24V100.62M283.55,96.32V101.56M284.86,97.38V102.49M286.17,98.43V103.41M287.48,99.47V104.32M288.79,100.50V105.23M290.10,101.52V106.12M291.41,102.48V106.97M292.72,103.37V107.76M294.03,104.24V108.52M295.34,105.08V109.26M296.65,105.86V109.92M297.96,106.56V110.52M299.27,107.24V111.10M300.58,107.90V111.69M301.89,108.54V112.27M303.20,109.18V112.85M304.51,109.80V113.42M305.82,110.41V113.97M307.13,110.96V114.48M308.44,111.49V114.95M309.75,112.01V115.42M311.06,112.53V115.89M312.37,113.05V116.36M313.68,113.57V116.82M314.99,114.05V117.25M316.30,114.44V117.59M317.61,114.80V117.90M318.92,115.16V118.20M320.23,115.51V118.51M321.54,115.85V118.82M322.85,116.19V119.14M324.16,116.53V119.45M325.47,116.87V119.77M326.78,117.20V120.09M328.09,117.54V120.40M329.40,117.88V120.72M330.71,118.22V121.03M332.02,118.56V121.35M333.33,118.90V121.67M334.64,119.23V121.98M335.95,119.55V122.27M337.26,119.86V122.56M338.57,120.16V122.84M339.88,120.47V123.13M341.19,120.77V123.41M342.50,121.04V123.65" stroke="#4a4a4a" stroke-width="0.42" fill="none"/>
<path d="M210.40,140.47h2.20M210.40,141.50h2.20M211.71,140.39h2.20M211.71,141.49h2.20M213.02,140.28h2.20M213.02,141.47h2.20M214.33,140.17h2.20M214.33,141.46h2.20M215.64,140.06h2.20M215.64,141.45h2.20M216.95,139.95h2.20M216.95,141.43h2.20M218.26,139.82h2.20M218.26,141.40h2.20M219.57,139.64h2.20M219.57,141.32h2.20M220.88,139.39h2.20M220.88,141.17h2.20M222.19,139.13h2.20M222.19,141.01h2.20M223.50,138.80h2.20M223.50,140.82h2.20M224.81,138.27h2.20M224.81,140.55h2.20M226.12,137.59h2.20M226.12,140.23h2.20M227.43,136.85h2.20M227.43,139.86h2.20M228.74,135.81h2.20M228.74,139.20h2.20M230.05,134.13h2.20M230.05,137.88h2.20M231.36,132.02h2.20M231.36,136.10h2.20M232.67,129.71h2.20M232.67,134.06h2.20M233.98,127.21h2.20M233.98,131.83h2.20M235.29,124.55h2.20M235.29,129.43h2.20M236.60,121.65h2.20M236.60,126.79h2.20M237.91,118.27h2.20M237.91,123.67h2.20M239.22,113.92h2.20M239.22,119.54h2.20M240.53,108.37h2.20M240.53,114.19h2.20M241.84,101.56h2.20M241.84,107.55h2.20M243.15,94.01h2.20M243.15,100.18h2.20M244.46,86.56h2.20M244.46,92.95h2.20M245.77,79.87h2.20M245.77,86.65h2.20M247.08,74.43h2.20M247.08,81.70h2.20M248.39,70.44h2.20M248.39,78.19h2.20M249.70,67.93h2.20M249.70,76.03h2.20M251.01,66.50h2.20M251.01,74.84h2.20M252.32,65.69h2.20M252.32,74.24h2.20M253.63,65.41h2.20M253.63,74.10h2.20M254.94,65.68h2.20M254.94,74.39h2.20M256.25,66.36h2.20M256.25,75.00h2.20M257.56,67.18h2.20M257.56,75.74h2.20M258.87,68.10h2.20M258.87,76.55h2.20M260.18,69.17h2.20M260.18,77.48h2.20M261.49,70.57h2.20M261.49,78.65h2.20M262.80,72.21h2.20M262.80,80.03h2.20M264.11,73.94h2.20M264.11,81.50h2.20M265.42,75.76h2.20M265.42,83.06h2.20M266.73,77.62h2.20M266.73,84.65h2.20M268.04,79.47h2.20M268.04,86.26h2.20M269.35,81.31h2.20M269.35,87.89h2.20M270.66,83.13h2.20M270.66,89.56h2.20M271.97,84.95h2.20M271.97,91.24h2.20M273.28,86.75h2.20M273.28,92.91h2.20M274.59,88.48h2.20M274.59,94.51h2.20M275.90,90.02h2.20M275.90,95.92h2.20M277.21,91.42h2.20M277.21,97.19h2.20M278.52,92.79h2.20M278.52,98.43h2.20M279.83,94.09h2.20M279.83,99.60h2.20M281.14,95.24h2.20M281.14,100.62h2.20M282.45,96.32h2.20M282.45,101.56h2.20M283.76,97.38h2.20M283.76,102.49h2.20M285.07,98.43h2.20M285.07,103.41h2.20M286.38,99.47h2.20M286.38,104.32h2.20M287.69,100.50h2.20M287.69,105.23h2.20M289.00,101.52h2.20M289.00,106.12h2.20M290.31,102.48h2.20M290.31,106.97h2.20M291.62,103.37h2.20M291.62,107.76h2.20M292.93,104.24h2.20M292.93,108.52h2.20M294.24,105.08h2.20M294.24,109.26h2.20M295.55,105.86h2.20M295.55,109.92h2.20M296.86,106.56h2.20M296.86,110.52h2.20M298.17,107.24h2.20M298.17,111.10h2.20M299.48,107.90h2.20M299.48,111.69h2.20M300.79,108.54h2.20M300.79,112.27h2.20M302.10,109.18h2.20M302.10,112.85h2.20M303.41,109.80h2.20M303.41,113.42h2.20M304.72,110.41h2.20M304.72,113.97h2.20M306.03,110.96h2.20M306.03,114.48h2.20M307.34,111.49h2.20M307.34,114.95h2.20M308.65,112.01h2.20M308.65,115.42h2.20M309.96,112.53h2.20M309.96,115.89h2.20M311.27,113.05h2.20M311.27,116.36h2.20M312.58,113.57h2.20M312.58,116.82h2.20M313.89,114.05h2.20M313.89,117.25h2.20M315.20,114.44h2.20M315.20,117.59h2.20M316.51,114.80h2.20M316.51,117.90h2.20M317.82,115.16h2.20M317.82,118.20h2.20M319.13,115.51h2.20M319.13,118.51h2.20M320.44,115.85h2.20M320.44,118.82h2.20M321.75,116.19h2.20M321.75,119.14h2.20M323.06,116.53h2.20M323.06,119.45h2.20M324.37,116.87h2.20M324.37,119.77h2.20M325.68,117.20h2.20M325.68,120.09h2.20M326.99,117.54h2.20M326.99,120.40h2.20M328.30,117.88h2.20M328.30,120.72h2.20M329.61,118.22h2.20M329.61,121.03h2.20M330.92,118.56h2.20M330.92,121.35h2.20M332.23,118.90h2.20M332.23,121.67h2.20M333.54,119.23h2.20M333.54,121.98h2.20M334.85,119.55h2.20M334.85,122.27h2.20M336.16,119.86h2.20M336.16,122.56h2.20M337.47,120.16h2.20M337.47,122.84h2.20M338.78,120.47h2.20M338.78,123.13h2.20M340.09,120.77h2.20M340.09,123.41h2.20M341.40,121.04h2.20M341.40,123.65h2.20" stroke="#1a1a1a" stroke-width="0.9" fill="none"/>
<path d="M211.50,140.98 L212.50,140.95 L213.50,140.91 L214.50,140.86 L215.50,140.81 L216.50,140.76 L217.50,140.72 L218.50,140.67 L219.50,140.60 L220.50,140.50 L221.50,140.36 L222.50,140.20 L223.50,140.03 L224.50,139.83 L225.50,139.55 L226.50,139.19 L227.50,138.80 L228.50,138.37 L229.50,137.79 L230.50,136.84 L231.50,135.51 L232.50,134.00 L233.50,132.36 L234.50,130.59 L235.50,128.73 L236.50,126.77 L237.50,124.67 L238.50,122.33 L239.50,119.52 L240.50,116.08 L241.50,111.90 L242.50,106.94 L243.50,101.41 L244.50,95.65 L245.50,90.07 L246.50,84.97 L247.50,80.56 L248.50,76.99 L249.50,74.29 L250.50,72.38 L251.50,71.17 L252.50,70.40 L253.50,69.93 L254.50,69.75 L255.50,69.86 L256.50,70.23 L257.50,70.76 L258.50,71.36 L259.50,72.01 L260.50,72.70 L261.50,73.51 L262.50,74.51 L263.50,75.64 L264.50,76.84 L265.50,78.09 L266.50,79.38 L267.50,80.70 L268.50,82.02 L269.50,83.34 L270.50,84.67 L271.50,86.00 L272.50,87.33 L273.50,88.67 L274.50,89.99 L275.50,91.27 L276.50,92.44 L277.50,93.49 L278.50,94.50 L279.50,95.49 L280.50,96.45 L281.50,97.33 L282.50,98.13 L283.50,98.90 L284.50,99.66 L285.50,100.42 L286.50,101.17 L287.50,101.91 L288.50,102.65 L289.50,103.39 L290.50,104.11 L291.50,104.79 L292.50,105.43 L293.50,106.05 L294.50,106.67 L295.50,107.26 L296.50,107.81 L297.50,108.32 L298.50,108.80 L299.50,109.28 L300.50,109.76 L301.50,110.23 L302.50,110.69 L303.50,111.15 L304.50,111.61 L305.50,112.05 L306.50,112.47 L307.50,112.86 L308.50,113.24 L309.50,113.62 L310.50,114.00 L311.50,114.38 L312.50,114.76 L313.50,115.13 L314.50,115.49 L315.50,115.80 L316.50,116.07 L317.50,116.32 L318.50,116.58 L319.50,116.83 L320.50,117.08 L321.50,117.33 L322.50,117.58 L323.50,117.83 L324.50,118.08 L325.50,118.33 L326.50,118.58 L327.50,118.83 L328.50,119.08 L329.50,119.33 L330.50,119.58 L331.50,119.83 L332.50,120.07 L333.50,120.32 L334.50,120.57 L335.50,120.81 L336.50,121.04 L337.50,121.26 L338.50,121.49 L339.50,121.71 L340.50,121.94 L341.50,122.16 L342.50,122.34" stroke="#64ae3d" stroke-width="1.5" fill="none" stroke-linejoin="round"/>
<path d="M247.40,48.90V141.00" stroke="#222" stroke-width="1.1" fill="none"/>
<path d="M261.60,48.90V141.00" stroke="#222" stroke-width="1.1" fill="none"/>
<rect x="251.85" y="53.55" width="1.3" height="1.3" fill="#333"/>
<rect x="254.35" y="53.55" width="1.3" height="1.3" fill="#333"/>
<rect x="256.85" y="53.55" width="1.3" height="1.3" fill="#333"/>
<path d="M377.50,49.00V142.00" stroke="#0a0a0a" stroke-width="1.0" fill="none"/>
<path d="M377.00,141.50H509.50" stroke="#0a0a0a" stroke-width="1.0" fill="none"/>
<path d="M374.30,141.20H377.50M374.30,111.30H377.50M374.30,81.40H377.50M374.30,51.50H377.50" stroke="#0a0a0a" stroke-width="1.0" fill="none"/>
<path d="M377.90,141.50V144.30M410.80,141.50V144.30M443.00,141.50V144.30M475.40,141.50V144.30M507.90,141.50V144.30" stroke="#0a0a0a" stroke-width="1.0" fill="none"/>
<text x="371.90" y="143.50" font-size="6.40" text-anchor="end" font-weight="normal" fill="#1a1a1a" stroke="#1a1a1a" stroke-width="0.15" >0</text>
<text x="371.90" y="113.60" font-size="6.40" text-anchor="end" font-weight="normal" fill="#1a1a1a" stroke="#1a1a1a" stroke-width="0.15" >5000</text>
<text x="371.90" y="83.70" font-size="6.40" text-anchor="end" font-weight="normal" fill="#1a1a1a" stroke="#1a1a1a" stroke-width="0.15" >10000</text>
<text x="371.90" y="53.80" font-size="6.40" text-anchor="end" font-weight="normal" fill="#1a1a1a" stroke="#1a1a1a" stroke-width="0.15" >15000</text>
<text x="377.90" y="153.00" font-size="6.40" text-anchor="middle" font-weight="normal" fill="#1a1a1a" stroke="#1a1a1a" stroke-width="0.15" >0</text>
<text x="410.80" y="153.00" font-size="6.40" text-anchor="middle" font-weight="normal" fill="#1a1a1a" stroke="#1a1a1a" stroke-width="0.15" >500</text>
<text x="443.00" y="153.00" font-size="6.40" text-anchor="middle" font-weight="normal" fill="#1a1a1a" stroke="#1a1a1a" stroke-width="0.15" >1000</text>
<text x="475.40" y="153.00" font-size="6.40" text-anchor="middle" font-weight="normal" fill="#1a1a1a" stroke="#1a1a1a" stroke-width="0.15" >1500</text>
<text x="507.90" y="153.00" font-size="6.40" text-anchor="middle" font-weight="normal" fill="#1a1a1a" stroke="#1a1a1a" stroke-width="0.15" >2000</text>
<path d="M378.00,139.43V141.04M379.31,139.24V140.91M380.62,139.00V140.73M381.93,138.75V140.54M383.24,138.48V140.34M384.55,138.13V140.06M385.86,137.59V139.58M387.17,136.95V139.01M388.48,136.29V138.42M389.79,135.50V137.68M391.10,134.38V136.63M392.41,133.01V135.34M393.72,131.45V133.94M395.03,129.33V132.20M396.34,126.63V130.05M397.65,123.97V127.95M398.96,121.64V126.17M400.27,119.64V124.58M401.58,118.12V123.27M402.89,116.98V122.27M404.20,116.04V121.46M405.51,115.30V120.85M406.82,114.68V120.36M408.13,114.08V119.89M409.44,113.52V119.45M410.75,113.04V119.04M412.06,112.61V118.63M413.37,112.18V118.22M414.68,111.76V117.82M415.99,111.34V117.42M417.30,110.96V117.06M418.61,110.59V116.71M419.92,110.23V116.36M421.23,109.87V116.02M422.54,109.51V115.68M423.85,109.19V115.38M425.16,108.96V115.16M426.47,108.77V114.99M427.78,108.58V114.82M429.09,108.40V114.66M430.40,108.22V114.50M431.71,108.04V114.33M433.02,107.86V114.17M434.33,107.68V114.00M435.64,107.50V113.84M436.95,107.34V113.70M438.26,107.24V113.62M439.57,107.23V113.61M440.88,107.26V113.60M442.19,107.30V113.58M443.50,107.35V113.56M444.81,107.40V113.54M446.12,107.45V113.52M447.43,107.52V113.52M448.74,107.68V113.62M450.05,107.95V113.82M451.36,108.26V114.05M452.67,108.56V114.29M453.98,108.87V114.52M455.29,109.17V114.76M456.60,109.48V114.99M457.91,109.78V115.23M459.22,110.09V115.47M460.53,110.41V115.72M461.84,110.75V115.99M463.15,111.10V116.26M464.46,111.44V116.54M465.77,111.79V116.82M467.08,112.14V117.09M468.39,112.48V117.37M469.70,112.83V117.65M471.01,113.16V117.94M472.32,113.49V118.24M473.63,113.81V118.53M474.94,114.12V118.81M476.25,114.39V119.06M477.56,114.64V119.28M478.87,114.89V119.50M480.18,115.14V119.72M481.49,115.39V119.95M482.80,115.64V120.17M484.11,115.89V120.39M485.42,116.14V120.61M486.73,116.39V120.83M488.04,116.64V121.05M489.35,116.88V121.27M490.66,117.09V121.45M491.97,117.27V121.60M493.28,117.44V121.75M494.59,117.61V121.89M495.90,117.78V122.03M497.21,117.96V122.17M498.52,118.13V122.32M499.83,118.30V122.46M501.14,118.47V122.60M502.45,118.64V122.75M503.76,118.81V122.89M505.07,118.98V123.03M506.38,119.15V123.17" stroke="#b2b2b2" stroke-width="1.35" fill="none"/>
<path d="M378.00,139.43V141.04M379.31,139.24V140.91M380.62,139.00V140.73M381.93,138.75V140.54M383.24,138.48V140.34M384.55,138.13V140.06M385.86,137.59V139.58M387.17,136.95V139.01M388.48,136.29V138.42M389.79,135.50V137.68M391.10,134.38V136.63M392.41,133.01V135.34M393.72,131.45V133.94M395.03,129.33V132.20M396.34,126.63V130.05M397.65,123.97V127.95M398.96,121.64V126.17M400.27,119.64V124.58M401.58,118.12V123.27M402.89,116.98V122.27M404.20,116.04V121.46M405.51,115.30V120.85M406.82,114.68V120.36M408.13,114.08V119.89M409.44,113.52V119.45M410.75,113.04V119.04M412.06,112.61V118.63M413.37,112.18V118.22M414.68,111.76V117.82M415.99,111.34V117.42M417.30,110.96V117.06M418.61,110.59V116.71M419.92,110.23V116.36M421.23,109.87V116.02M422.54,109.51V115.68M423.85,109.19V115.38M425.16,108.96V115.16M426.47,108.77V114.99M427.78,108.58V114.82M429.09,108.40V114.66M430.40,108.22V114.50M431.71,108.04V114.33M433.02,107.86V114.17M434.33,107.68V114.00M435.64,107.50V113.84M436.95,107.34V113.70M438.26,107.24V113.62M439.57,107.23V113.61M440.88,107.26V113.60M442.19,107.30V113.58M443.50,107.35V113.56M444.81,107.40V113.54M446.12,107.45V113.52M447.43,107.52V113.52M448.74,107.68V113.62M450.05,107.95V113.82M451.36,108.26V114.05M452.67,108.56V114.29M453.98,108.87V114.52M455.29,109.17V114.76M456.60,109.48V114.99M457.91,109.78V115.23M459.22,110.09V115.47M460.53,110.41V115.72M461.84,110.75V115.99M463.15,111.10V116.26M464.46,111.44V116.54M465.77,111.79V116.82M467.08,112.14V117.09M468.39,112.48V117.37M469.70,112.83V117.65M471.01,113.16V117.94M472.32,113.49V118.24M473.63,113.81V118.53M474.94,114.12V118.81M476.25,114.39V119.06M477.56,114.64V119.28M478.87,114.89V119.50M480.18,115.14V119.72M481.49,115.39V119.95M482.80,115.64V120.17M484.11,115.89V120.39M485.42,116.14V120.61M486.73,116.39V120.83M488.04,116.64V121.05M489.35,116.88V121.27M490.66,117.09V121.45M491.97,117.27V121.60M493.28,117.44V121.75M494.59,117.61V121.89M495.90,117.78V122.03M497.21,117.96V122.17M498.52,118.13V122.32M499.83,118.30V122.46M501.14,118.47V122.60M502.45,118.64V122.75M503.76,118.81V122.89M505.07,118.98V123.03M506.38,119.15V123.17" stroke="#4a4a4a" stroke-width="0.42" fill="none"/>
<path d="M376.90,139.43h2.20M376.90,141.04h2.20M378.21,139.24h2.20M378.21,140.91h2.20M379.52,139.00h2.20M379.52,140.73h2.20M380.83,138.75h2.20M380.83,140.54h2.20M382.14,138.48h2.20M382.14,140.34h2.20M383.45,138.13h2.20M383.45,140.06h2.20M384.76,137.59h2.20M384.76,139.58h2.20M386.07,136.95h2.20M386.07,139.01h2.20M387.38,136.29h2.20M387.38,138.42h2.20M388.69,135.50h2.20M388.69,137.68h2.20M390.00,134.38h2.20M390.00,136.63h2.20M391.31,133.01h2.20M391.31,135.34h2.20M392.62,131.45h2.20M392.62,133.94h2.20M393.93,129.33h2.20M393.93,132.20h2.20M395.24,126.63h2.20M395.24,130.05h2.20M396.55,123.97h2.20M396.55,127.95h2.20M397.86,121.64h2.20M397.86,126.17h2.20M399.17,119.64h2.20M399.17,124.58h2.20M400.48,118.12h2.20M400.48,123.27h2.20M401.79,116.98h2.20M401.79,122.27h2.20M403.10,116.04h2.20M403.10,121.46h2.20M404.41,115.30h2.20M404.41,120.85h2.20M405.72,114.68h2.20M405.72,120.36h2.20M407.03,114.08h2.20M407.03,119.89h2.20M408.34,113.52h2.20M408.34,119.45h2.20M409.65,113.04h2.20M409.65,119.04h2.20M410.96,112.61h2.20M410.96,118.63h2.20M412.27,112.18h2.20M412.27,118.22h2.20M413.58,111.76h2.20M413.58,117.82h2.20M414.89,111.34h2.20M414.89,117.42h2.20M416.20,110.96h2.20M416.20,117.06h2.20M417.51,110.59h2.20M417.51,116.71h2.20M418.82,110.23h2.20M418.82,116.36h2.20M420.13,109.87h2.20M420.13,116.02h2.20M421.44,109.51h2.20M421.44,115.68h2.20M422.75,109.19h2.20M422.75,115.38h2.20M424.06,108.96h2.20M424.06,115.16h2.20M425.37,108.77h2.20M425.37,114.99h2.20M426.68,108.58h2.20M426.68,114.82h2.20M427.99,108.40h2.20M427.99,114.66h2.20M429.30,108.22h2.20M429.30,114.50h2.20M430.61,108.04h2.20M430.61,114.33h2.20M431.92,107.86h2.20M431.92,114.17h2.20M433.23,107.68h2.20M433.23,114.00h2.20M434.54,107.50h2.20M434.54,113.84h2.20M435.85,107.34h2.20M435.85,113.70h2.20M437.16,107.24h2.20M437.16,113.62h2.20M438.47,107.23h2.20M438.47,113.61h2.20M439.78,107.26h2.20M439.78,113.60h2.20M441.09,107.30h2.20M441.09,113.58h2.20M442.40,107.35h2.20M442.40,113.56h2.20M443.71,107.40h2.20M443.71,113.54h2.20M445.02,107.45h2.20M445.02,113.52h2.20M446.33,107.52h2.20M446.33,113.52h2.20M447.64,107.68h2.20M447.64,113.62h2.20M448.95,107.95h2.20M448.95,113.82h2.20M450.26,108.26h2.20M450.26,114.05h2.20M451.57,108.56h2.20M451.57,114.29h2.20M452.88,108.87h2.20M452.88,114.52h2.20M454.19,109.17h2.20M454.19,114.76h2.20M455.50,109.48h2.20M455.50,114.99h2.20M456.81,109.78h2.20M456.81,115.23h2.20M458.12,110.09h2.20M458.12,115.47h2.20M459.43,110.41h2.20M459.43,115.72h2.20M460.74,110.75h2.20M460.74,115.99h2.20M462.05,111.10h2.20M462.05,116.26h2.20M463.36,111.44h2.20M463.36,116.54h2.20M464.67,111.79h2.20M464.67,116.82h2.20M465.98,112.14h2.20M465.98,117.09h2.20M467.29,112.48h2.20M467.29,117.37h2.20M468.60,112.83h2.20M468.60,117.65h2.20M469.91,113.16h2.20M469.91,117.94h2.20M471.22,113.49h2.20M471.22,118.24h2.20M472.53,113.81h2.20M472.53,118.53h2.20M473.84,114.12h2.20M473.84,118.81h2.20M475.15,114.39h2.20M475.15,119.06h2.20M476.46,114.64h2.20M476.46,119.28h2.20M477.77,114.89h2.20M477.77,119.50h2.20M479.08,115.14h2.20M479.08,119.72h2.20M480.39,115.39h2.20M480.39,119.95h2.20M481.70,115.64h2.20M481.70,120.17h2.20M483.01,115.89h2.20M483.01,120.39h2.20M484.32,116.14h2.20M484.32,120.61h2.20M485.63,116.39h2.20M485.63,120.83h2.20M486.94,116.64h2.20M486.94,121.05h2.20M488.25,116.88h2.20M488.25,121.27h2.20M489.56,117.09h2.20M489.56,121.45h2.20M490.87,117.27h2.20M490.87,121.60h2.20M492.18,117.44h2.20M492.18,121.75h2.20M493.49,117.61h2.20M493.49,121.89h2.20M494.80,117.78h2.20M494.80,122.03h2.20M496.11,117.96h2.20M496.11,122.17h2.20M497.42,118.13h2.20M497.42,122.32h2.20M498.73,118.30h2.20M498.73,122.46h2.20M500.04,118.47h2.20M500.04,122.60h2.20M501.35,118.64h2.20M501.35,122.75h2.20M502.66,118.81h2.20M502.66,122.89h2.20M503.97,118.98h2.20M503.97,123.03h2.20M505.28,119.15h2.20M505.28,123.17h2.20" stroke="#1a1a1a" stroke-width="0.9" fill="none"/>
<path d="M378.00,140.23 L379.00,140.12 L380.00,139.97 L381.00,139.80 L382.00,139.63 L383.00,139.46 L384.00,139.25 L385.00,138.94 L386.00,138.53 L387.00,138.06 L388.00,137.59 L389.00,137.08 L390.00,136.45 L391.00,135.60 L392.00,134.61 L393.00,133.54 L394.00,132.34 L395.00,130.82 L396.00,128.99 L397.00,127.10 L398.00,125.38 L399.00,123.84 L400.00,122.45 L401.00,121.26 L402.00,120.32 L403.00,119.54 L404.00,118.86 L405.00,118.31 L406.00,117.86 L407.00,117.45 L408.00,117.04 L409.00,116.65 L410.00,116.29 L411.00,115.96 L412.00,115.64 L413.00,115.32 L414.00,115.00 L415.00,114.69 L416.00,114.38 L417.00,114.09 L418.00,113.82 L419.00,113.55 L420.00,113.28 L421.00,113.01 L422.00,112.74 L423.00,112.48 L424.00,112.25 L425.00,112.08 L426.00,111.94 L427.00,111.81 L428.00,111.67 L429.00,111.54 L430.00,111.41 L431.00,111.28 L432.00,111.15 L433.00,111.02 L434.00,110.89 L435.00,110.75 L436.00,110.63 L437.00,110.51 L438.00,110.44 L439.00,110.42 L440.00,110.42 L441.00,110.43 L442.00,110.44 L443.00,110.45 L444.00,110.46 L445.00,110.47 L446.00,110.48 L447.00,110.50 L448.00,110.56 L449.00,110.69 L450.00,110.87 L451.00,111.08 L452.00,111.29 L453.00,111.49 L454.00,111.70 L455.00,111.90 L456.00,112.11 L457.00,112.32 L458.00,112.52 L459.00,112.73 L460.00,112.95 L461.00,113.17 L462.00,113.41 L463.00,113.64 L464.00,113.88 L465.00,114.12 L466.00,114.36 L467.00,114.60 L468.00,114.83 L469.00,115.07 L470.00,115.31 L471.00,115.55 L472.00,115.79 L473.00,116.02 L474.00,116.26 L475.00,116.48 L476.00,116.68 L477.00,116.86 L478.00,117.04 L479.00,117.22 L480.00,117.40 L481.00,117.58 L482.00,117.76 L483.00,117.94 L484.00,118.12 L485.00,118.30 L486.00,118.48 L487.00,118.66 L488.00,118.84 L489.00,119.02 L490.00,119.18 L491.00,119.32 L492.00,119.44 L493.00,119.56 L494.00,119.68 L495.00,119.80 L496.00,119.92 L497.00,120.04 L498.00,120.16 L499.00,120.28 L500.00,120.40 L501.00,120.52 L502.00,120.64 L503.00,120.76 L504.00,120.88 L505.00,121.00 L506.00,121.12 L507.00,121.22" stroke="#4b1c6c" stroke-width="2.2" fill="none" stroke-linejoin="round"/>
<path d="M378.00,138.62V140.25M379.31,138.17V139.86M380.62,137.59V139.36M381.93,136.98V138.85M383.24,136.37V138.32M384.55,135.68V137.71M385.86,134.72V136.85M387.17,133.56V135.77M388.48,132.28V134.59M389.79,130.53V133.05M391.10,128.05V131.05M392.41,124.96V128.61M393.72,121.18V125.50M395.03,117.09V122.01M396.34,113.24V118.60M397.65,110.01V115.75M398.96,107.38V113.47M400.27,105.21V111.56M401.58,103.41V109.90M402.89,101.96V108.54M404.20,100.74V107.39M405.51,99.69V106.42M406.82,98.76V105.57M408.13,97.95V104.84M409.44,97.17V104.14M410.75,96.39V103.45M412.06,95.59V102.75M413.37,94.79V102.04M414.68,93.97V101.33M415.99,93.16V100.61M417.30,92.28V99.87M418.61,91.24V99.14M419.92,89.94V98.31M421.23,88.36V97.25M422.54,86.68V96.09M423.85,85.05V94.87M425.16,83.57V93.57M426.47,82.21V92.27M427.78,80.95V91.05M429.09,79.85V89.97M430.40,78.85V89.01M431.71,77.89V88.08M433.02,77.11V87.34M434.33,76.71V86.97M435.64,76.49V86.78M436.95,76.30V86.62M438.26,76.18V86.53M439.57,76.18V86.53M440.88,76.27V86.51M442.19,76.40V86.45M443.50,76.58V86.42M444.81,76.97V86.60M446.12,77.71V87.14M447.43,78.60V87.81M448.74,79.41V88.41M450.05,80.13V88.93M451.36,80.84V89.42M452.67,81.54V89.91M453.98,82.24V90.40M455.29,82.96V90.92M456.60,83.70V91.44M457.91,84.44V91.97M459.22,85.18V92.50M460.53,85.92V93.03M461.84,86.66V93.56M463.15,87.39V94.09M464.46,88.11V94.60M465.77,88.78V95.05M467.08,89.42V95.49M468.39,90.06V95.92M469.70,90.69V96.37M471.01,91.27V96.86M472.32,91.83V97.37M473.63,92.38V97.89M474.94,92.91V98.37M476.25,93.37V98.80M477.56,93.80V99.20M478.87,94.23V99.59M480.18,94.66V99.99M481.49,95.09V100.38M482.80,95.51V100.77M484.11,95.94V101.17M485.42,96.37V101.56M486.73,96.80V101.95M488.04,97.23V102.34M489.35,97.63V102.72M490.66,97.98V103.03M491.97,98.26V103.28M493.28,98.53V103.51M494.59,98.79V103.74M495.90,99.06V103.97M497.21,99.32V104.20M498.52,99.59V104.43M499.83,99.85V104.66M501.14,100.12V104.89M502.45,100.38V105.12M503.76,100.64V105.34M505.07,100.91V105.57M506.38,101.16V105.79" stroke="#b2b2b2" stroke-width="1.35" fill="none"/>
<path d="M378.00,138.62V140.25M379.31,138.17V139.86M380.62,137.59V139.36M381.93,136.98V138.85M383.24,136.37V138.32M384.55,135.68V137.71M385.86,134.72V136.85M387.17,133.56V135.77M388.48,132.28V134.59M389.79,130.53V133.05M391.10,128.05V131.05M392.41,124.96V128.61M393.72,121.18V125.50M395.03,117.09V122.01M396.34,113.24V118.60M397.65,110.01V115.75M398.96,107.38V113.47M400.27,105.21V111.56M401.58,103.41V109.90M402.89,101.96V108.54M404.20,100.74V107.39M405.51,99.69V106.42M406.82,98.76V105.57M408.13,97.95V104.84M409.44,97.17V104.14M410.75,96.39V103.45M412.06,95.59V102.75M413.37,94.79V102.04M414.68,93.97V101.33M415.99,93.16V100.61M417.30,92.28V99.87M418.61,91.24V99.14M419.92,89.94V98.31M421.23,88.36V97.25M422.54,86.68V96.09M423.85,85.05V94.87M425.16,83.57V93.57M426.47,82.21V92.27M427.78,80.95V91.05M429.09,79.85V89.97M430.40,78.85V89.01M431.71,77.89V88.08M433.02,77.11V87.34M434.33,76.71V86.97M435.64,76.49V86.78M436.95,76.30V86.62M438.26,76.18V86.53M439.57,76.18V86.53M440.88,76.27V86.51M442.19,76.40V86.45M443.50,76.58V86.42M444.81,76.97V86.60M446.12,77.71V87.14M447.43,78.60V87.81M448.74,79.41V88.41M450.05,80.13V88.93M451.36,80.84V89.42M452.67,81.54V89.91M453.98,82.24V90.40M455.29,82.96V90.92M456.60,83.70V91.44M457.91,84.44V91.97M459.22,85.18V92.50M460.53,85.92V93.03M461.84,86.66V93.56M463.15,87.39V94.09M464.46,88.11V94.60M465.77,88.78V95.05M467.08,89.42V95.49M468.39,90.06V95.92M469.70,90.69V96.37M471.01,91.27V96.86M472.32,91.83V97.37M473.63,92.38V97.89M474.94,92.91V98.37M476.25,93.37V98.80M477.56,93.80V99.20M478.87,94.23V99.59M480.18,94.66V99.99M481.49,95.09V100.38M482.80,95.51V100.77M484.11,95.94V101.17M485.42,96.37V101.56M486.73,96.80V101.95M488.04,97.23V102.34M489.35,97.63V102.72M490.66,97.98V103.03M491.97,98.26V103.28M493.28,98.53V103.51M494.59,98.79V103.74M495.90,99.06V103.97M497.21,99.32V104.20M498.52,99.59V104.43M499.83,99.85V104.66M501.14,100.12V104.89M502.45,100.38V105.12M503.76,100.64V105.34M505.07,100.91V105.57M506.38,101.16V105.79" stroke="#4a4a4a" stroke-width="0.42" fill="none"/>
<path d="M376.90,138.62h2.20M376.90,140.25h2.20M378.21,138.17h2.20M378.21,139.86h2.20M379.52,137.59h2.20M379.52,139.36h2.20M380.83,136.98h2.20M380.83,138.85h2.20M382.14,136.37h2.20M382.14,138.32h2.20M383.45,135.68h2.20M383.45,137.71h2.20M384.76,134.72h2.20M384.76,136.85h2.20M386.07,133.56h2.20M386.07,135.77h2.20M387.38,132.28h2.20M387.38,134.59h2.20M388.69,130.53h2.20M388.69,133.05h2.20M390.00,128.05h2.20M390.00,131.05h2.20M391.31,124.96h2.20M391.31,128.61h2.20M392.62,121.18h2.20M392.62,125.50h2.20M393.93,117.09h2.20M393.93,122.01h2.20M395.24,113.24h2.20M395.24,118.60h2.20M396.55,110.01h2.20M396.55,115.75h2.20M397.86,107.38h2.20M397.86,113.47h2.20M399.17,105.21h2.20M399.17,111.56h2.20M400.48,103.41h2.20M400.48,109.90h2.20M401.79,101.96h2.20M401.79,108.54h2.20M403.10,100.74h2.20M403.10,107.39h2.20M404.41,99.69h2.20M404.41,106.42h2.20M405.72,98.76h2.20M405.72,105.57h2.20M407.03,97.95h2.20M407.03,104.84h2.20M408.34,97.17h2.20M408.34,104.14h2.20M409.65,96.39h2.20M409.65,103.45h2.20M410.96,95.59h2.20M410.96,102.75h2.20M412.27,94.79h2.20M412.27,102.04h2.20M413.58,93.97h2.20M413.58,101.33h2.20M414.89,93.16h2.20M414.89,100.61h2.20M416.20,92.28h2.20M416.20,99.87h2.20M417.51,91.24h2.20M417.51,99.14h2.20M418.82,89.94h2.20M418.82,98.31h2.20M420.13,88.36h2.20M420.13,97.25h2.20M421.44,86.68h2.20M421.44,96.09h2.20M422.75,85.05h2.20M422.75,94.87h2.20M424.06,83.57h2.20M424.06,93.57h2.20M425.37,82.21h2.20M425.37,92.27h2.20M426.68,80.95h2.20M426.68,91.05h2.20M427.99,79.85h2.20M427.99,89.97h2.20M429.30,78.85h2.20M429.30,89.01h2.20M430.61,77.89h2.20M430.61,88.08h2.20M431.92,77.11h2.20M431.92,87.34h2.20M433.23,76.71h2.20M433.23,86.97h2.20M434.54,76.49h2.20M434.54,86.78h2.20M435.85,76.30h2.20M435.85,86.62h2.20M437.16,76.18h2.20M437.16,86.53h2.20M438.47,76.18h2.20M438.47,86.53h2.20M439.78,76.27h2.20M439.78,86.51h2.20M441.09,76.40h2.20M441.09,86.45h2.20M442.40,76.58h2.20M442.40,86.42h2.20M443.71,76.97h2.20M443.71,86.60h2.20M445.02,77.71h2.20M445.02,87.14h2.20M446.33,78.60h2.20M446.33,87.81h2.20M447.64,79.41h2.20M447.64,88.41h2.20M448.95,80.13h2.20M448.95,88.93h2.20M450.26,80.84h2.20M450.26,89.42h2.20M451.57,81.54h2.20M451.57,89.91h2.20M452.88,82.24h2.20M452.88,90.40h2.20M454.19,82.96h2.20M454.19,90.92h2.20M455.50,83.70h2.20M455.50,91.44h2.20M456.81,84.44h2.20M456.81,91.97h2.20M458.12,85.18h2.20M458.12,92.50h2.20M459.43,85.92h2.20M459.43,93.03h2.20M460.74,86.66h2.20M460.74,93.56h2.20M462.05,87.39h2.20M462.05,94.09h2.20M463.36,88.11h2.20M463.36,94.60h2.20M464.67,88.78h2.20M464.67,95.05h2.20M465.98,89.42h2.20M465.98,95.49h2.20M467.29,90.06h2.20M467.29,95.92h2.20M468.60,90.69h2.20M468.60,96.37h2.20M469.91,91.27h2.20M469.91,96.86h2.20M471.22,91.83h2.20M471.22,97.37h2.20M472.53,92.38h2.20M472.53,97.89h2.20M473.84,92.91h2.20M473.84,98.37h2.20M475.15,93.37h2.20M475.15,98.80h2.20M476.46,93.80h2.20M476.46,99.20h2.20M477.77,94.23h2.20M477.77,99.59h2.20M479.08,94.66h2.20M479.08,99.99h2.20M480.39,95.09h2.20M480.39,100.38h2.20M481.70,95.51h2.20M481.70,100.77h2.20M483.01,95.94h2.20M483.01,101.17h2.20M484.32,96.37h2.20M484.32,101.56h2.20M485.63,96.80h2.20M485.63,101.95h2.20M486.94,97.23h2.20M486.94,102.34h2.20M488.25,97.63h2.20M488.25,102.72h2.20M489.56,97.98h2.20M489.56,103.03h2.20M490.87,98.26h2.20M490.87,103.28h2.20M492.18,98.53h2.20M492.18,103.51h2.20M493.49,98.79h2.20M493.49,103.74h2.20M494.80,99.06h2.20M494.80,103.97h2.20M496.11,99.32h2.20M496.11,104.20h2.20M497.42,99.59h2.20M497.42,104.43h2.20M498.73,99.85h2.20M498.73,104.66h2.20M500.04,100.12h2.20M500.04,104.89h2.20M501.35,100.38h2.20M501.35,105.12h2.20M502.66,100.64h2.20M502.66,105.34h2.20M503.97,100.91h2.20M503.97,105.57h2.20M505.28,101.16h2.20M505.28,105.79h2.20" stroke="#1a1a1a" stroke-width="0.9" fill="none"/>
<path d="M378.00,139.43 L379.00,139.14 L380.00,138.74 L381.00,138.31 L382.00,137.89 L383.00,137.45 L384.00,136.99 L385.00,136.42 L386.00,135.68 L387.00,134.82 L388.00,133.91 L389.00,132.86 L390.00,131.48 L391.00,129.75 L392.00,127.73 L393.00,125.32 L394.00,122.54 L395.00,119.64 L396.00,116.81 L397.00,114.29 L398.00,112.17 L399.00,110.36 L400.00,108.77 L401.00,107.38 L402.00,106.17 L403.00,105.14 L404.00,104.23 L405.00,103.43 L406.00,102.71 L407.00,102.05 L408.00,101.46 L409.00,100.90 L410.00,100.34 L411.00,99.78 L412.00,99.20 L413.00,98.63 L414.00,98.05 L415.00,97.46 L416.00,96.88 L417.00,96.27 L418.00,95.62 L419.00,94.90 L420.00,94.06 L421.00,93.05 L422.00,91.98 L423.00,90.88 L424.00,89.80 L425.00,88.73 L426.00,87.71 L427.00,86.72 L428.00,85.80 L429.00,84.98 L430.00,84.22 L431.00,83.48 L432.00,82.79 L433.00,82.23 L434.00,81.91 L435.00,81.72 L436.00,81.58 L437.00,81.45 L438.00,81.37 L439.00,81.34 L440.00,81.36 L441.00,81.39 L442.00,81.42 L443.00,81.46 L444.00,81.57 L445.00,81.85 L446.00,82.35 L447.00,82.95 L448.00,83.53 L449.00,84.04 L450.00,84.51 L451.00,84.96 L452.00,85.42 L453.00,85.87 L454.00,86.33 L455.00,86.80 L456.00,87.28 L457.00,87.76 L458.00,88.25 L459.00,88.73 L460.00,89.22 L461.00,89.70 L462.00,90.19 L463.00,90.67 L464.00,91.14 L465.00,91.59 L466.00,92.01 L467.00,92.42 L468.00,92.83 L469.00,93.24 L470.00,93.65 L471.00,94.06 L472.00,94.47 L473.00,94.88 L474.00,95.28 L475.00,95.66 L476.00,96.01 L477.00,96.33 L478.00,96.64 L479.00,96.95 L480.00,97.27 L481.00,97.58 L482.00,97.89 L483.00,98.21 L484.00,98.52 L485.00,98.83 L486.00,99.15 L487.00,99.46 L488.00,99.77 L489.00,100.08 L490.00,100.35 L491.00,100.58 L492.00,100.78 L493.00,100.97 L494.00,101.15 L495.00,101.34 L496.00,101.53 L497.00,101.72 L498.00,101.91 L499.00,102.10 L500.00,102.29 L501.00,102.47 L502.00,102.66 L503.00,102.85 L504.00,103.04 L505.00,103.23 L506.00,103.41 L507.00,103.57" stroke="#64ae3d" stroke-width="1.6" fill="none" stroke-linejoin="round"/>
<path d="M418.80,52.00V141.00" stroke="#333" stroke-width="1.15" fill="none"/>
<path d="M507.90,52.00V141.00" stroke="#333" stroke-width="1.15" fill="none"/>
<rect x="451.15" y="54.05" width="1.3" height="1.3" fill="#333"/>
<rect x="453.28" y="54.05" width="1.3" height="1.3" fill="#333"/>
<rect x="455.42" y="54.05" width="1.3" height="1.3" fill="#333"/>
<rect x="457.55" y="54.05" width="1.3" height="1.3" fill="#333"/>
<rect x="404" y="162.9" width="9.8" height="6.1" fill="#64ae3d"/>
<text x="416.50" y="168.30" font-size="5.10" text-anchor="start" font-weight="normal" fill="#000" stroke="#000" stroke-width="0.12" textLength="16.2" lengthAdjust="spacingAndGlyphs">Control</text>
<rect x="443.3" y="162.9" width="9.6" height="6.1" fill="#4b1c6c"/>
<text x="456.00" y="168.30" font-size="4.90" text-anchor="start" font-weight="normal" fill="#000" stroke="#000" stroke-width="0.12" textLength="8.2" lengthAdjust="spacingAndGlyphs">EIO</text>
<text transform="translate(17.2,94.7) rotate(-90) scale(0.64,1)" font-size="8.2" font-weight="bold" text-anchor="middle" fill="#1a1a1a">RLU</text>
<text transform="translate(13.8,277.9) rotate(-90) scale(0.64,1)" font-size="8.2" font-weight="bold" text-anchor="middle" fill="#1a1a1a">RLU</text>
<text x="7.00" y="194.30" font-size="11.00" text-anchor="start" font-weight="bold" fill="#000" stroke="#000" stroke-width="0.18" >B</text>
<g fill="#111" stroke="#111" stroke-width="0.18" font-size="8.7"><text x="174" y="195">Oxidative burst -</text><text x="238.3" y="195" font-style="italic">Hamp1</text><text x="267.5" y="191.6" font-size="7.0" stroke-width="0.12" textLength="19.5" lengthAdjust="spacingAndGlyphs">lox/lox</text><text x="290" y="195">vs</text><text x="301.1" y="195" font-style="italic">Hamp1</text><text x="329.1" y="195" font-size="7.1" stroke-width="0.12">&#916;</text><text x="334.2" y="191.7" font-size="6.4" stroke-width="0.12" textLength="11.2" lengthAdjust="spacingAndGlyphs">liver</text></g>
<path d="M43.1,206H476" stroke="#4a4a4a" stroke-width="1.4"/>
<text x="109.00" y="222.80" font-size="7.90" text-anchor="middle" font-weight="normal" fill="#111" stroke="#111" stroke-width="0.18" >fMLF</text>
<text x="276.50" y="222.80" font-size="7.90" text-anchor="middle" font-weight="normal" fill="#111" stroke="#111" stroke-width="0.18" >Opsonized Zymosan</text>
<text x="441.40" y="222.20" font-size="7.90" text-anchor="middle" font-weight="normal" fill="#111" stroke="#111" stroke-width="0.18" >PMA</text>
<path d="M42.90,228.40V328.30" stroke="#1a1a1a" stroke-width="1.1" fill="none"/>
<path d="M42.40,327.80H175.00" stroke="#1a1a1a" stroke-width="1.1" fill="none"/>
<path d="M39.70,327.70H42.90M39.70,308.50H42.90M39.70,288.70H42.90M39.70,269.20H42.90M39.70,249.50H42.90M39.70,229.80H42.90" stroke="#1a1a1a" stroke-width="1.0" fill="none"/>
<path d="M42.70,327.80V330.60M107.80,327.80V330.60M172.70,327.80V330.60" stroke="#1a1a1a" stroke-width="1.0" fill="none"/>
<text x="37.30" y="330.00" font-size="6.40" text-anchor="end" font-weight="normal" fill="#1a1a1a" stroke="#1a1a1a" stroke-width="0.15" >0</text>
<text x="37.30" y="310.80" font-size="6.40" text-anchor="end" font-weight="normal" fill="#1a1a1a" stroke="#1a1a1a" stroke-width="0.15" >5000</text>
<text x="37.30" y="291.00" font-size="6.40" text-anchor="end" font-weight="normal" fill="#1a1a1a" stroke="#1a1a1a" stroke-width="0.15" >10000</text>
<text x="37.30" y="271.50" font-size="6.40" text-anchor="end" font-weight="normal" fill="#1a1a1a" stroke="#1a1a1a" stroke-width="0.15" >15000</text>
<text x="37.30" y="251.80" font-size="6.40" text-anchor="end" font-weight="normal" fill="#1a1a1a" stroke="#1a1a1a" stroke-width="0.15" >20000</text>
<text x="37.30" y="232.10" font-size="6.40" text-anchor="end" font-weight="normal" fill="#1a1a1a" stroke="#1a1a1a" stroke-width="0.15" >25000</text>
<text x="42.70" y="339.00" font-size="6.40" text-anchor="middle" font-weight="normal" fill="#1a1a1a" stroke="#1a1a1a" stroke-width="0.15" >0</text>
<text x="107.80" y="339.00" font-size="6.40" text-anchor="middle" font-weight="normal" fill="#1a1a1a" stroke="#1a1a1a" stroke-width="0.15" >500</text>
<text x="172.70" y="339.00" font-size="6.40" text-anchor="middle" font-weight="normal" fill="#1a1a1a" stroke="#1a1a1a" stroke-width="0.15" >1000</text>
<path d="M59.40,230.30V327.70" stroke="#333" stroke-width="1.1" fill="none"/>
<path d="M44.50,276.45V297.15M46.90,250.38V292.40M49.30,252.67V282.82M51.70,271.62V283.95M54.10,286.40V295.54M56.50,295.79V304.38M58.90,301.84V310.03M61.30,305.70V313.52M63.70,308.66V316.14M66.10,311.09V318.24M68.50,312.54V319.35M70.90,313.85V320.33M73.30,314.54V320.68M75.70,315.13V320.94M78.10,315.73V321.20M80.50,316.23V321.44M82.90,316.44V321.62M85.30,316.64V321.81M87.70,316.84V321.99M90.10,317.04V322.17M92.50,317.19V322.31M94.90,317.34V322.45M97.30,317.49V322.58M99.70,317.64V322.71M102.10,317.68V322.74M104.50,317.70V322.74M106.90,317.72V322.75M109.30,317.74V322.75M111.70,317.76V322.76M114.10,317.78V322.76M116.50,317.80V322.76M118.90,317.82V322.77M121.30,317.84V322.77M123.70,317.86V322.78M126.10,317.88V322.78M128.50,317.90V322.79M130.90,317.92V322.79M133.30,317.94V322.79M135.70,317.96V322.80M138.10,317.98V322.80M140.50,318.00V322.81M142.90,318.02V322.81M145.30,318.04V322.82M147.70,318.07V322.83M150.10,318.09V322.83M152.50,318.11V322.84M154.90,318.13V322.85M157.30,318.16V322.86M159.70,318.18V322.86M162.10,318.20V322.87M164.50,318.22V322.88M166.90,318.25V322.88M169.30,318.27V322.89M171.70,318.29V322.90" stroke="#c0c0c0" stroke-width="1.3" fill="none"/>
<path d="M44.50,276.45V297.15M46.90,250.38V292.40M49.30,252.67V282.82M51.70,271.62V283.95M54.10,286.40V295.54M56.50,295.79V304.38M58.90,301.84V310.03M61.30,305.70V313.52M63.70,308.66V316.14M66.10,311.09V318.24M68.50,312.54V319.35M70.90,313.85V320.33M73.30,314.54V320.68M75.70,315.13V320.94M78.10,315.73V321.20M80.50,316.23V321.44M82.90,316.44V321.62M85.30,316.64V321.81M87.70,316.84V321.99M90.10,317.04V322.17M92.50,317.19V322.31M94.90,317.34V322.45M97.30,317.49V322.58M99.70,317.64V322.71M102.10,317.68V322.74M104.50,317.70V322.74M106.90,317.72V322.75M109.30,317.74V322.75M111.70,317.76V322.76M114.10,317.78V322.76M116.50,317.80V322.76M118.90,317.82V322.77M121.30,317.84V322.77M123.70,317.86V322.78M126.10,317.88V322.78M128.50,317.90V322.79M130.90,317.92V322.79M133.30,317.94V322.79M135.70,317.96V322.80M138.10,317.98V322.80M140.50,318.00V322.81M142.90,318.02V322.81M145.30,318.04V322.82M147.70,318.07V322.83M150.10,318.09V322.83M152.50,318.11V322.84M154.90,318.13V322.85M157.30,318.16V322.86M159.70,318.18V322.86M162.10,318.20V322.87M164.50,318.22V322.88M166.90,318.25V322.88M169.30,318.27V322.89M171.70,318.29V322.90" stroke="#6a6a6a" stroke-width="0.35" fill="none"/>
<path d="M43.45,276.45h2.10M43.45,297.15h2.10M45.85,250.38h2.10M45.85,292.40h2.10M48.25,252.67h2.10M48.25,282.82h2.10M50.65,271.62h2.10M50.65,283.95h2.10M53.05,286.40h2.10M53.05,295.54h2.10M55.45,295.79h2.10M55.45,304.38h2.10M57.85,301.84h2.10M57.85,310.03h2.10M60.25,305.70h2.10M60.25,313.52h2.10M62.65,308.66h2.10M62.65,316.14h2.10M65.05,311.09h2.10M65.05,318.24h2.10M67.45,312.54h2.10M67.45,319.35h2.10M69.85,313.85h2.10M69.85,320.33h2.10M72.25,314.54h2.10M72.25,320.68h2.10M74.65,315.13h2.10M74.65,320.94h2.10M77.05,315.73h2.10M77.05,321.20h2.10M79.45,316.23h2.10M79.45,321.44h2.10M81.85,316.44h2.10M81.85,321.62h2.10M84.25,316.64h2.10M84.25,321.81h2.10M86.65,316.84h2.10M86.65,321.99h2.10M89.05,317.04h2.10M89.05,322.17h2.10M91.45,317.19h2.10M91.45,322.31h2.10M93.85,317.34h2.10M93.85,322.45h2.10M96.25,317.49h2.10M96.25,322.58h2.10M98.65,317.64h2.10M98.65,322.71h2.10M101.05,317.68h2.10M101.05,322.74h2.10M103.45,317.70h2.10M103.45,322.74h2.10M105.85,317.72h2.10M105.85,322.75h2.10M108.25,317.74h2.10M108.25,322.75h2.10M110.65,317.76h2.10M110.65,322.76h2.10M113.05,317.78h2.10M113.05,322.76h2.10M115.45,317.80h2.10M115.45,322.76h2.10M117.85,317.82h2.10M117.85,322.77h2.10M120.25,317.84h2.10M120.25,322.77h2.10M122.65,317.86h2.10M122.65,322.78h2.10M125.05,317.88h2.10M125.05,322.78h2.10M127.45,317.90h2.10M127.45,322.79h2.10M129.85,317.92h2.10M129.85,322.79h2.10M132.25,317.94h2.10M132.25,322.79h2.10M134.65,317.96h2.10M134.65,322.80h2.10M137.05,317.98h2.10M137.05,322.80h2.10M139.45,318.00h2.10M139.45,322.81h2.10M141.85,318.02h2.10M141.85,322.81h2.10M144.25,318.04h2.10M144.25,322.82h2.10M146.65,318.07h2.10M146.65,322.83h2.10M149.05,318.09h2.10M149.05,322.83h2.10M151.45,318.11h2.10M151.45,322.84h2.10M153.85,318.13h2.10M153.85,322.85h2.10M156.25,318.16h2.10M156.25,322.86h2.10M158.65,318.18h2.10M158.65,322.86h2.10M161.05,318.20h2.10M161.05,322.87h2.10M163.45,318.22h2.10M163.45,322.88h2.10M165.85,318.25h2.10M165.85,322.88h2.10M168.25,318.27h2.10M168.25,322.89h2.10M170.65,318.29h2.10M170.65,322.90h2.10" stroke="#1a1a1a" stroke-width="0.9" fill="none"/>
<path d="M42.70,296.02 L43.70,291.54 L44.70,285.54 L45.70,278.34 L46.70,272.31 L47.70,268.52 L48.70,267.06 L49.70,269.06 L50.70,272.82 L51.70,277.80 L52.70,283.29 L53.70,288.99 L54.70,293.55 L55.70,297.29 L56.70,300.74 L57.70,303.28 L58.70,305.53 L59.70,307.37 L60.70,308.78 L61.70,310.16 L62.70,311.38 L63.70,312.40 L64.70,313.40 L65.70,314.35 L66.70,315.04 L67.70,315.55 L68.70,316.05 L69.70,316.55 L70.70,317.02 L71.70,317.32 L72.70,317.50 L73.70,317.68 L74.70,317.86 L75.70,318.04 L76.70,318.21 L77.70,318.39 L78.70,318.57 L79.70,318.74 L80.70,318.85 L81.70,318.94 L82.70,319.02 L83.70,319.10 L84.70,319.18 L85.70,319.26 L86.70,319.34 L87.70,319.42 L88.70,319.50 L89.70,319.57 L90.70,319.64 L91.70,319.70 L92.70,319.76 L93.70,319.82 L94.70,319.88 L95.70,319.94 L96.70,320.00 L97.70,320.06 L98.70,320.12 L99.70,320.18 L100.70,320.20 L101.70,320.21 L102.70,320.21 L103.70,320.22 L104.70,320.22 L105.70,320.23 L106.70,320.23 L107.70,320.24 L108.70,320.24 L109.70,320.25 L110.70,320.25 L111.70,320.26 L112.70,320.26 L113.70,320.27 L114.70,320.27 L115.70,320.28 L116.70,320.28 L117.70,320.29 L118.70,320.29 L119.70,320.30 L120.70,320.30 L121.70,320.31 L122.70,320.31 L123.70,320.32 L124.70,320.32 L125.70,320.33 L126.70,320.33 L127.70,320.34 L128.70,320.34 L129.70,320.35 L130.70,320.35 L131.70,320.36 L132.70,320.36 L133.70,320.37 L134.70,320.37 L135.70,320.38 L136.70,320.38 L137.70,320.39 L138.70,320.39 L139.70,320.40 L140.70,320.40 L141.70,320.41 L142.70,320.42 L143.70,320.42 L144.70,320.43 L145.70,320.43 L146.70,320.44 L147.70,320.45 L148.70,320.45 L149.70,320.46 L150.70,320.47 L151.70,320.47 L152.70,320.48 L153.70,320.48 L154.70,320.49 L155.70,320.50 L156.70,320.50 L157.70,320.51 L158.70,320.51 L159.70,320.52 L160.70,320.53 L161.70,320.53 L162.70,320.54 L163.70,320.54 L164.70,320.55 L165.70,320.56 L166.70,320.56 L167.70,320.57 L168.70,320.58 L169.70,320.58 L170.70,320.59 L171.70,320.59 L172.70,320.60" stroke="#b3123a" stroke-width="1.5" fill="none" stroke-linejoin="round"/>
<path d="M44.50,316.52V322.34M46.90,307.22V317.41M49.30,301.39V313.72M51.70,306.21V315.64M54.10,312.75V319.65M56.50,316.90V321.80M58.90,318.48V322.65M61.30,319.46V322.93M63.70,320.17V322.94M66.10,320.72V323.11M68.50,321.09V323.46M70.90,321.42V323.78M73.30,321.69V324.03M75.70,321.97V324.29M78.10,322.24V324.54M80.50,322.48V324.76M82.90,322.60V324.86M85.30,322.71V324.96M87.70,322.83V325.06M90.10,322.95V325.16M92.50,323.06V325.26M94.90,323.18V325.36M97.30,323.30V325.46M99.70,323.41V325.55M102.10,323.45V325.57M104.50,323.47V325.58M106.90,323.49V325.58M109.30,323.51V325.58M111.70,323.53V325.59M114.10,323.55V325.59M116.50,323.57V325.59M118.90,323.59V325.59M121.30,323.61V325.59M123.70,323.62V325.58M126.10,323.63V325.57M128.50,323.64V325.56M130.90,323.64V325.56M133.30,323.65V325.55M135.70,323.66V325.54M138.10,323.67V325.53M140.50,323.68V325.52M142.90,323.69V325.51M145.30,323.70V325.50M147.70,323.71V325.49M150.10,323.72V325.48M152.50,323.72V325.48M154.90,323.73V325.47M157.30,323.74V325.46M159.70,323.75V325.45M162.10,323.76V325.44M164.50,323.77V325.43M166.90,323.78V325.42M169.30,323.79V325.41M171.70,323.80V325.40" stroke="#c0c0c0" stroke-width="1.3" fill="none"/>
<path d="M44.50,316.52V322.34M46.90,307.22V317.41M49.30,301.39V313.72M51.70,306.21V315.64M54.10,312.75V319.65M56.50,316.90V321.80M58.90,318.48V322.65M61.30,319.46V322.93M63.70,320.17V322.94M66.10,320.72V323.11M68.50,321.09V323.46M70.90,321.42V323.78M73.30,321.69V324.03M75.70,321.97V324.29M78.10,322.24V324.54M80.50,322.48V324.76M82.90,322.60V324.86M85.30,322.71V324.96M87.70,322.83V325.06M90.10,322.95V325.16M92.50,323.06V325.26M94.90,323.18V325.36M97.30,323.30V325.46M99.70,323.41V325.55M102.10,323.45V325.57M104.50,323.47V325.58M106.90,323.49V325.58M109.30,323.51V325.58M111.70,323.53V325.59M114.10,323.55V325.59M116.50,323.57V325.59M118.90,323.59V325.59M121.30,323.61V325.59M123.70,323.62V325.58M126.10,323.63V325.57M128.50,323.64V325.56M130.90,323.64V325.56M133.30,323.65V325.55M135.70,323.66V325.54M138.10,323.67V325.53M140.50,323.68V325.52M142.90,323.69V325.51M145.30,323.70V325.50M147.70,323.71V325.49M150.10,323.72V325.48M152.50,323.72V325.48M154.90,323.73V325.47M157.30,323.74V325.46M159.70,323.75V325.45M162.10,323.76V325.44M164.50,323.77V325.43M166.90,323.78V325.42M169.30,323.79V325.41M171.70,323.80V325.40" stroke="#6a6a6a" stroke-width="0.35" fill="none"/>
<path d="M43.45,316.52h2.10M43.45,322.34h2.10M45.85,307.22h2.10M45.85,317.41h2.10M48.25,301.39h2.10M48.25,313.72h2.10M50.65,306.21h2.10M50.65,315.64h2.10M53.05,312.75h2.10M53.05,319.65h2.10M55.45,316.90h2.10M55.45,321.80h2.10M57.85,318.48h2.10M57.85,322.65h2.10M60.25,319.46h2.10M60.25,322.93h2.10M62.65,320.17h2.10M62.65,322.94h2.10M65.05,320.72h2.10M65.05,323.11h2.10M67.45,321.09h2.10M67.45,323.46h2.10M69.85,321.42h2.10M69.85,323.78h2.10M72.25,321.69h2.10M72.25,324.03h2.10M74.65,321.97h2.10M74.65,324.29h2.10M77.05,322.24h2.10M77.05,324.54h2.10M79.45,322.48h2.10M79.45,324.76h2.10M81.85,322.60h2.10M81.85,324.86h2.10M84.25,322.71h2.10M84.25,324.96h2.10M86.65,322.83h2.10M86.65,325.06h2.10M89.05,322.95h2.10M89.05,325.16h2.10M91.45,323.06h2.10M91.45,325.26h2.10M93.85,323.18h2.10M93.85,325.36h2.10M96.25,323.30h2.10M96.25,325.46h2.10M98.65,323.41h2.10M98.65,325.55h2.10M101.05,323.45h2.10M101.05,325.57h2.10M103.45,323.47h2.10M103.45,325.58h2.10M105.85,323.49h2.10M105.85,325.58h2.10M108.25,323.51h2.10M108.25,325.58h2.10M110.65,323.53h2.10M110.65,325.59h2.10M113.05,323.55h2.10M113.05,325.59h2.10M115.45,323.57h2.10M115.45,325.59h2.10M117.85,323.59h2.10M117.85,325.59h2.10M120.25,323.61h2.10M120.25,325.59h2.10M122.65,323.62h2.10M122.65,325.58h2.10M125.05,323.63h2.10M125.05,325.57h2.10M127.45,323.64h2.10M127.45,325.56h2.10M129.85,323.64h2.10M129.85,325.56h2.10M132.25,323.65h2.10M132.25,325.55h2.10M134.65,323.66h2.10M134.65,325.54h2.10M137.05,323.67h2.10M137.05,325.53h2.10M139.45,323.68h2.10M139.45,325.52h2.10M141.85,323.69h2.10M141.85,325.51h2.10M144.25,323.70h2.10M144.25,325.50h2.10M146.65,323.71h2.10M146.65,325.49h2.10M149.05,323.72h2.10M149.05,325.48h2.10M151.45,323.72h2.10M151.45,325.48h2.10M153.85,323.73h2.10M153.85,325.47h2.10M156.25,323.74h2.10M156.25,325.46h2.10M158.65,323.75h2.10M158.65,325.45h2.10M161.05,323.76h2.10M161.05,325.44h2.10M163.45,323.77h2.10M163.45,325.43h2.10M165.85,323.78h2.10M165.85,325.42h2.10M168.25,323.79h2.10M168.25,325.41h2.10M170.65,323.80h2.10M170.65,325.40h2.10" stroke="#1a1a1a" stroke-width="0.9" fill="none"/>
<path d="M42.70,326.22 L43.70,322.73 L44.70,318.63 L45.70,315.43 L46.70,312.81 L47.70,310.35 L48.70,308.16 L49.70,307.63 L50.70,309.11 L51.70,310.92 L52.70,313.10 L53.70,315.40 L54.70,317.19 L55.70,318.46 L56.70,319.55 L57.70,320.09 L58.70,320.49 L59.70,320.86 L60.70,321.10 L61.70,321.25 L62.70,321.41 L63.70,321.56 L64.70,321.70 L65.70,321.86 L66.70,322.01 L67.70,322.16 L68.70,322.30 L69.70,322.45 L70.70,322.58 L71.70,322.69 L72.70,322.80 L73.70,322.91 L74.70,323.02 L75.70,323.13 L76.70,323.24 L77.70,323.35 L78.70,323.46 L79.70,323.56 L80.70,323.63 L81.70,323.68 L82.70,323.72 L83.70,323.77 L84.70,323.81 L85.70,323.86 L86.70,323.90 L87.70,323.95 L88.70,323.99 L89.70,324.04 L90.70,324.08 L91.70,324.13 L92.70,324.17 L93.70,324.22 L94.70,324.26 L95.70,324.31 L96.70,324.35 L97.70,324.40 L98.70,324.44 L99.70,324.48 L100.70,324.50 L101.70,324.51 L102.70,324.51 L103.70,324.52 L104.70,324.52 L105.70,324.53 L106.70,324.53 L107.70,324.54 L108.70,324.54 L109.70,324.55 L110.70,324.55 L111.70,324.56 L112.70,324.56 L113.70,324.57 L114.70,324.57 L115.70,324.58 L116.70,324.58 L117.70,324.59 L118.70,324.59 L119.70,324.60 L120.70,324.60 L121.70,324.60 L122.70,324.60 L123.70,324.60 L124.70,324.60 L125.70,324.60 L126.70,324.60 L127.70,324.60 L128.70,324.60 L129.70,324.60 L130.70,324.60 L131.70,324.60 L132.70,324.60 L133.70,324.60 L134.70,324.60 L135.70,324.60 L136.70,324.60 L137.70,324.60 L138.70,324.60 L139.70,324.60 L140.70,324.60 L141.70,324.60 L142.70,324.60 L143.70,324.60 L144.70,324.60 L145.70,324.60 L146.70,324.60 L147.70,324.60 L148.70,324.60 L149.70,324.60 L150.70,324.60 L151.70,324.60 L152.70,324.60 L153.70,324.60 L154.70,324.60 L155.70,324.60 L156.70,324.60 L157.70,324.60 L158.70,324.60 L159.70,324.60 L160.70,324.60 L161.70,324.60 L162.70,324.60 L163.70,324.60 L164.70,324.60 L165.70,324.60 L166.70,324.60 L167.70,324.60 L168.70,324.60 L169.70,324.60 L170.70,324.60 L171.70,324.60 L172.70,324.60" stroke="#223d7a" stroke-width="1.1" fill="none" stroke-linejoin="round"/>
<rect x="46.15" y="232.25" width="1.3" height="1.3" fill="#333"/>
<rect x="48.38" y="232.25" width="1.3" height="1.3" fill="#333"/>
<rect x="50.62" y="232.25" width="1.3" height="1.3" fill="#333"/>
<rect x="52.85" y="232.25" width="1.3" height="1.3" fill="#333"/>
<path d="M210.80,228.25V327.80" stroke="#1a1a1a" stroke-width="1.1" fill="none"/>
<path d="M210.30,327.30H343.30" stroke="#1a1a1a" stroke-width="1.1" fill="none"/>
<path d="M207.60,327.00H210.80M207.60,307.60H210.80M207.60,288.30H210.80M207.60,268.90H210.80M207.60,249.60H210.80M207.60,230.20H210.80" stroke="#1a1a1a" stroke-width="1.0" fill="none"/>
<path d="M210.80,327.30V330.10M243.50,327.30V330.10M275.30,327.30V330.10M307.70,327.30V330.10M340.50,327.30V330.10" stroke="#1a1a1a" stroke-width="1.0" fill="none"/>
<text x="205.20" y="329.30" font-size="6.40" text-anchor="end" font-weight="normal" fill="#1a1a1a" stroke="#1a1a1a" stroke-width="0.15" >0</text>
<text x="205.20" y="309.90" font-size="6.40" text-anchor="end" font-weight="normal" fill="#1a1a1a" stroke="#1a1a1a" stroke-width="0.15" >44000</text>
<text x="205.20" y="290.60" font-size="6.40" text-anchor="end" font-weight="normal" fill="#1a1a1a" stroke="#1a1a1a" stroke-width="0.15" >88000</text>
<text x="205.20" y="271.20" font-size="6.40" text-anchor="end" font-weight="normal" fill="#1a1a1a" stroke="#1a1a1a" stroke-width="0.15" >132000</text>
<text x="205.20" y="251.90" font-size="6.40" text-anchor="end" font-weight="normal" fill="#1a1a1a" stroke="#1a1a1a" stroke-width="0.15" >176000</text>
<text x="205.20" y="232.50" font-size="6.40" text-anchor="end" font-weight="normal" fill="#1a1a1a" stroke="#1a1a1a" stroke-width="0.15" >220000</text>
<text x="210.80" y="339.00" font-size="6.40" text-anchor="middle" font-weight="normal" fill="#1a1a1a" stroke="#1a1a1a" stroke-width="0.15" >0</text>
<text x="243.50" y="339.00" font-size="6.40" text-anchor="middle" font-weight="normal" fill="#1a1a1a" stroke="#1a1a1a" stroke-width="0.15" >500</text>
<text x="275.30" y="339.00" font-size="6.40" text-anchor="middle" font-weight="normal" fill="#1a1a1a" stroke="#1a1a1a" stroke-width="0.15" >1000</text>
<text x="307.70" y="339.00" font-size="6.40" text-anchor="middle" font-weight="normal" fill="#1a1a1a" stroke="#1a1a1a" stroke-width="0.15" >1500</text>
<text x="340.50" y="339.00" font-size="6.40" text-anchor="middle" font-weight="normal" fill="#1a1a1a" stroke="#1a1a1a" stroke-width="0.15" >2000</text>
<path d="M210.80,326.44V327.30M212.11,326.36V327.30M213.42,326.24V327.30M214.73,326.11V327.30M216.04,325.99V327.30M217.35,325.86V327.30M218.66,325.71V327.30M219.97,325.47V327.30M221.28,325.03V327.30M222.59,324.34V327.29M223.90,323.51V327.24M225.21,322.61V327.08M226.52,321.66V326.79M227.83,320.51V326.42M229.14,318.94V326.02M230.45,316.94V325.60M231.76,314.68V325.11M233.07,312.21V324.41M234.38,309.33V323.43M235.69,305.81V322.23M237.00,301.80V320.91M238.31,297.70V319.41M239.62,293.82V317.52M240.93,290.29V315.22M242.24,287.20V312.76M243.55,284.73V310.47M244.86,282.83V308.53M246.17,281.27V306.93M247.48,279.82V305.59M248.79,278.49V304.59M250.10,277.42V303.92M251.41,276.63V303.43M252.72,276.02V302.99M254.03,275.54V302.59M255.34,275.26V302.30M256.65,275.21V302.15M257.96,275.33V302.13M259.27,275.56V302.21M260.58,275.83V302.35M261.89,276.12V302.51M263.20,276.44V302.67M264.51,276.84V302.83M265.82,277.40V302.99M267.13,278.10V303.15M268.44,278.88V303.33M269.75,279.71V303.57M271.06,280.60V303.90M272.37,281.52V304.29M273.68,282.47V304.72M274.99,283.42V305.15M276.30,284.36V305.58M277.61,285.29V306.01M278.92,286.19V306.44M280.23,287.06V306.85M281.54,287.92V307.24M282.85,288.78V307.63M284.16,289.59V308.01M285.47,290.32V308.39M286.78,290.96V308.77M288.09,291.56V309.14M289.40,292.14V309.51M290.71,292.71V309.85M292.02,293.29V310.18M293.33,293.86V310.50M294.64,294.42V310.81M295.95,294.96V311.13M297.26,295.48V311.44M298.57,295.99V311.75M299.88,296.50V312.03M301.19,297.01V312.28M302.50,297.53V312.51M303.81,298.04V312.73M305.12,298.57V312.94M306.43,299.12V313.16M307.74,299.68V313.38M309.05,300.24V313.59M310.36,300.80V313.81M311.67,301.37V314.03M312.98,301.92V314.24M314.29,302.45V314.46M315.60,302.93V314.67M316.91,303.35V314.89M318.22,303.74V315.10M319.53,304.12V315.31M320.84,304.51V315.51M322.15,304.89V315.70M323.46,305.27V315.88M324.77,305.66V316.06M326.08,306.03V316.24M327.39,306.39V316.42M328.70,306.73V316.60M330.01,307.03V316.78M331.32,307.31V316.96M332.63,307.60V317.14M333.94,307.88V317.33M335.25,308.16V317.51M336.56,308.44V317.69M337.87,308.72V317.87M339.18,308.99V318.03M340.49,309.19V318.17" stroke="#b2b2b2" stroke-width="1.35" fill="none"/>
<path d="M210.80,326.44V327.30M212.11,326.36V327.30M213.42,326.24V327.30M214.73,326.11V327.30M216.04,325.99V327.30M217.35,325.86V327.30M218.66,325.71V327.30M219.97,325.47V327.30M221.28,325.03V327.30M222.59,324.34V327.29M223.90,323.51V327.24M225.21,322.61V327.08M226.52,321.66V326.79M227.83,320.51V326.42M229.14,318.94V326.02M230.45,316.94V325.60M231.76,314.68V325.11M233.07,312.21V324.41M234.38,309.33V323.43M235.69,305.81V322.23M237.00,301.80V320.91M238.31,297.70V319.41M239.62,293.82V317.52M240.93,290.29V315.22M242.24,287.20V312.76M243.55,284.73V310.47M244.86,282.83V308.53M246.17,281.27V306.93M247.48,279.82V305.59M248.79,278.49V304.59M250.10,277.42V303.92M251.41,276.63V303.43M252.72,276.02V302.99M254.03,275.54V302.59M255.34,275.26V302.30M256.65,275.21V302.15M257.96,275.33V302.13M259.27,275.56V302.21M260.58,275.83V302.35M261.89,276.12V302.51M263.20,276.44V302.67M264.51,276.84V302.83M265.82,277.40V302.99M267.13,278.10V303.15M268.44,278.88V303.33M269.75,279.71V303.57M271.06,280.60V303.90M272.37,281.52V304.29M273.68,282.47V304.72M274.99,283.42V305.15M276.30,284.36V305.58M277.61,285.29V306.01M278.92,286.19V306.44M280.23,287.06V306.85M281.54,287.92V307.24M282.85,288.78V307.63M284.16,289.59V308.01M285.47,290.32V308.39M286.78,290.96V308.77M288.09,291.56V309.14M289.40,292.14V309.51M290.71,292.71V309.85M292.02,293.29V310.18M293.33,293.86V310.50M294.64,294.42V310.81M295.95,294.96V311.13M297.26,295.48V311.44M298.57,295.99V311.75M299.88,296.50V312.03M301.19,297.01V312.28M302.50,297.53V312.51M303.81,298.04V312.73M305.12,298.57V312.94M306.43,299.12V313.16M307.74,299.68V313.38M309.05,300.24V313.59M310.36,300.80V313.81M311.67,301.37V314.03M312.98,301.92V314.24M314.29,302.45V314.46M315.60,302.93V314.67M316.91,303.35V314.89M318.22,303.74V315.10M319.53,304.12V315.31M320.84,304.51V315.51M322.15,304.89V315.70M323.46,305.27V315.88M324.77,305.66V316.06M326.08,306.03V316.24M327.39,306.39V316.42M328.70,306.73V316.60M330.01,307.03V316.78M331.32,307.31V316.96M332.63,307.60V317.14M333.94,307.88V317.33M335.25,308.16V317.51M336.56,308.44V317.69M337.87,308.72V317.87M339.18,308.99V318.03M340.49,309.19V318.17" stroke="#4a4a4a" stroke-width="0.42" fill="none"/>
<path d="M209.70,326.44h2.20M209.70,327.30h2.20M211.01,326.36h2.20M211.01,327.30h2.20M212.32,326.24h2.20M212.32,327.30h2.20M213.63,326.11h2.20M213.63,327.30h2.20M214.94,325.99h2.20M214.94,327.30h2.20M216.25,325.86h2.20M216.25,327.30h2.20M217.56,325.71h2.20M217.56,327.30h2.20M218.87,325.47h2.20M218.87,327.30h2.20M220.18,325.03h2.20M220.18,327.30h2.20M221.49,324.34h2.20M221.49,327.29h2.20M222.80,323.51h2.20M222.80,327.24h2.20M224.11,322.61h2.20M224.11,327.08h2.20M225.42,321.66h2.20M225.42,326.79h2.20M226.73,320.51h2.20M226.73,326.42h2.20M228.04,318.94h2.20M228.04,326.02h2.20M229.35,316.94h2.20M229.35,325.60h2.20M230.66,314.68h2.20M230.66,325.11h2.20M231.97,312.21h2.20M231.97,324.41h2.20M233.28,309.33h2.20M233.28,323.43h2.20M234.59,305.81h2.20M234.59,322.23h2.20M235.90,301.80h2.20M235.90,320.91h2.20M237.21,297.70h2.20M237.21,319.41h2.20M238.52,293.82h2.20M238.52,317.52h2.20M239.83,290.29h2.20M239.83,315.22h2.20M241.14,287.20h2.20M241.14,312.76h2.20M242.45,284.73h2.20M242.45,310.47h2.20M243.76,282.83h2.20M243.76,308.53h2.20M245.07,281.27h2.20M245.07,306.93h2.20M246.38,279.82h2.20M246.38,305.59h2.20M247.69,278.49h2.20M247.69,304.59h2.20M249.00,277.42h2.20M249.00,303.92h2.20M250.31,276.63h2.20M250.31,303.43h2.20M251.62,276.02h2.20M251.62,302.99h2.20M252.93,275.54h2.20M252.93,302.59h2.20M254.24,275.26h2.20M254.24,302.30h2.20M255.55,275.21h2.20M255.55,302.15h2.20M256.86,275.33h2.20M256.86,302.13h2.20M258.17,275.56h2.20M258.17,302.21h2.20M259.48,275.83h2.20M259.48,302.35h2.20M260.79,276.12h2.20M260.79,302.51h2.20M262.10,276.44h2.20M262.10,302.67h2.20M263.41,276.84h2.20M263.41,302.83h2.20M264.72,277.40h2.20M264.72,302.99h2.20M266.03,278.10h2.20M266.03,303.15h2.20M267.34,278.88h2.20M267.34,303.33h2.20M268.65,279.71h2.20M268.65,303.57h2.20M269.96,280.60h2.20M269.96,303.90h2.20M271.27,281.52h2.20M271.27,304.29h2.20M272.58,282.47h2.20M272.58,304.72h2.20M273.89,283.42h2.20M273.89,305.15h2.20M275.20,284.36h2.20M275.20,305.58h2.20M276.51,285.29h2.20M276.51,306.01h2.20M277.82,286.19h2.20M277.82,306.44h2.20M279.13,287.06h2.20M279.13,306.85h2.20M280.44,287.92h2.20M280.44,307.24h2.20M281.75,288.78h2.20M281.75,307.63h2.20M283.06,289.59h2.20M283.06,308.01h2.20M284.37,290.32h2.20M284.37,308.39h2.20M285.68,290.96h2.20M285.68,308.77h2.20M286.99,291.56h2.20M286.99,309.14h2.20M288.30,292.14h2.20M288.30,309.51h2.20M289.61,292.71h2.20M289.61,309.85h2.20M290.92,293.29h2.20M290.92,310.18h2.20M292.23,293.86h2.20M292.23,310.50h2.20M293.54,294.42h2.20M293.54,310.81h2.20M294.85,294.96h2.20M294.85,311.13h2.20M296.16,295.48h2.20M296.16,311.44h2.20M297.47,295.99h2.20M297.47,311.75h2.20M298.78,296.50h2.20M298.78,312.03h2.20M300.09,297.01h2.20M300.09,312.28h2.20M301.40,297.53h2.20M301.40,312.51h2.20M302.71,298.04h2.20M302.71,312.73h2.20M304.02,298.57h2.20M304.02,312.94h2.20M305.33,299.12h2.20M305.33,313.16h2.20M306.64,299.68h2.20M306.64,313.38h2.20M307.95,300.24h2.20M307.95,313.59h2.20M309.26,300.80h2.20M309.26,313.81h2.20M310.57,301.37h2.20M310.57,314.03h2.20M311.88,301.92h2.20M311.88,314.24h2.20M313.19,302.45h2.20M313.19,314.46h2.20M314.50,302.93h2.20M314.50,314.67h2.20M315.81,303.35h2.20M315.81,314.89h2.20M317.12,303.74h2.20M317.12,315.10h2.20M318.43,304.12h2.20M318.43,315.31h2.20M319.74,304.51h2.20M319.74,315.51h2.20M321.05,304.89h2.20M321.05,315.70h2.20M322.36,305.27h2.20M322.36,315.88h2.20M323.67,305.66h2.20M323.67,316.06h2.20M324.98,306.03h2.20M324.98,316.24h2.20M326.29,306.39h2.20M326.29,316.42h2.20M327.60,306.73h2.20M327.60,316.60h2.20M328.91,307.03h2.20M328.91,316.78h2.20M330.22,307.31h2.20M330.22,316.96h2.20M331.53,307.60h2.20M331.53,317.14h2.20M332.84,307.88h2.20M332.84,317.33h2.20M334.15,308.16h2.20M334.15,317.51h2.20M335.46,308.44h2.20M335.46,317.69h2.20M336.77,308.72h2.20M336.77,317.87h2.20M338.08,308.99h2.20M338.08,318.03h2.20M339.39,309.19h2.20M339.39,318.17h2.20" stroke="#1a1a1a" stroke-width="0.9" fill="none"/>
<path d="M210.80,326.98 L211.80,326.95 L212.80,326.92 L213.80,326.88 L214.80,326.84 L215.80,326.80 L216.80,326.76 L217.80,326.72 L218.80,326.67 L219.80,326.58 L220.80,326.43 L221.80,326.19 L222.80,325.87 L223.80,325.49 L224.80,325.07 L225.80,324.57 L226.80,323.95 L227.80,323.21 L228.80,322.37 L229.80,321.45 L230.80,320.42 L231.80,319.27 L232.80,318.00 L233.80,316.66 L234.80,315.26 L235.80,313.78 L236.80,312.18 L237.80,310.43 L238.80,308.57 L239.80,306.61 L240.80,304.56 L241.80,302.45 L242.80,300.38 L243.80,298.47 L244.80,296.77 L245.80,295.25 L246.80,293.87 L247.80,292.67 L248.80,291.65 L249.80,290.81 L250.80,290.08 L251.80,289.45 L252.80,288.93 L253.80,288.56 L254.80,288.33 L255.80,288.19 L256.80,288.14 L257.80,288.20 L258.80,288.39 L259.80,288.68 L260.80,289.02 L261.80,289.38 L262.80,289.76 L263.80,290.16 L264.80,290.58 L265.80,291.00 L266.80,291.43 L267.80,291.85 L268.80,292.28 L269.80,292.69 L270.80,293.09 L271.80,293.48 L272.80,293.86 L273.80,294.24 L274.80,294.62 L275.80,295.00 L276.80,295.38 L277.80,295.76 L278.80,296.14 L279.80,296.52 L280.80,296.90 L281.80,297.28 L282.80,297.66 L283.80,298.04 L284.80,298.42 L285.80,298.80 L286.80,299.18 L287.80,299.56 L288.80,299.94 L289.80,300.32 L290.80,300.70 L291.80,301.08 L292.80,301.46 L293.80,301.84 L294.80,302.22 L295.80,302.60 L296.80,302.98 L297.80,303.36 L298.80,303.73 L299.80,304.10 L300.80,304.45 L301.80,304.79 L302.80,305.12 L303.80,305.45 L304.80,305.78 L305.80,306.11 L306.80,306.44 L307.80,306.77 L308.80,307.09 L309.80,307.40 L310.80,307.70 L311.80,307.98 L312.80,308.25 L313.80,308.53 L314.80,308.80 L315.80,309.07 L316.80,309.34 L317.80,309.60 L318.80,309.86 L319.80,310.10 L320.80,310.32 L321.80,310.52 L322.80,310.70 L323.80,310.88 L324.80,311.06 L325.80,311.24 L326.80,311.42 L327.80,311.60 L328.80,311.78 L329.80,311.95 L330.80,312.11 L331.80,312.26 L332.80,312.41 L333.80,312.55 L334.80,312.70 L335.80,312.84 L336.80,312.99 L337.80,313.13 L338.80,313.27 L339.80,313.39 L340.80,313.48" stroke="#2c5193" stroke-width="1.6" fill="none" stroke-linejoin="round"/>
<path d="M210.80,325.85V327.52M212.11,325.63V327.41M213.42,325.33V327.26M214.73,324.99V327.08M216.04,324.63V326.88M217.35,324.25V326.67M218.66,323.83V326.41M219.97,323.28V326.04M221.28,322.52V325.47M222.59,321.51V324.70M223.90,320.12V323.61M225.21,318.05V321.85M226.52,315.05V319.18M227.83,311.23V315.69M229.14,306.65V311.47M230.45,301.61V306.83M231.76,296.52V302.19M233.07,291.47V297.62M234.38,286.18V292.83M235.69,280.64V287.80M237.00,275.23V283.00M238.31,269.91V278.51M239.62,264.26V273.94M240.93,258.42V269.31M242.24,252.98V265.04M243.55,248.44V261.55M244.86,244.91V258.90M246.17,242.31V256.89M247.48,240.40V255.23M248.79,239.01V253.88M250.10,238.07V252.86M251.41,237.54V252.16M252.72,237.40V251.78M254.03,237.64V251.73M255.34,238.20V251.99M256.65,239.04V252.55M257.96,240.08V253.33M259.27,241.30V254.32M260.58,242.70V255.50M261.89,244.24V256.81M263.20,245.86V258.16M264.51,247.51V259.49M265.82,249.14V260.78M267.13,250.75V262.04M268.44,252.34V263.29M269.75,253.94V264.54M271.06,255.56V265.81M272.37,257.22V267.14M273.68,258.97V268.55M274.99,260.80V270.06M276.30,262.68V271.60M277.61,264.55V273.15M278.92,266.37V274.68M280.23,268.07V276.16M281.54,269.63V277.57M282.85,271.07V278.93M284.16,272.44V280.23M285.47,273.71V281.43M286.78,274.87V282.53M288.09,275.96V283.56M289.40,277.01V284.54M290.71,277.99V285.46M292.02,278.92V286.32M293.33,279.82V287.15M294.64,280.68V287.94M295.95,281.48V288.68M297.26,282.25V289.38M298.57,282.99V290.07M299.88,283.72V290.75M301.19,284.45V291.44M302.50,285.17V292.13M303.81,285.89V292.84M305.12,286.63V293.55M306.43,287.38V294.29M307.74,288.15V295.03M309.05,288.92V295.78M310.36,289.68V296.53M311.67,290.45V297.28M312.98,291.21V298.02M314.29,291.93V298.72M315.60,292.57V299.34M316.91,293.13V299.89M318.22,293.66V300.39M319.53,294.16V300.88M320.84,294.67V301.37M322.15,295.18V301.85M323.46,295.68V302.33M324.77,296.15V302.79M326.08,296.60V303.22M327.39,297.01V303.61M328.70,297.42V304.00M330.01,297.82V304.38M331.32,298.22V304.76M332.63,298.62V305.14M333.94,299.00V305.50M335.25,299.38V305.86M336.56,299.75V306.21M337.87,300.11V306.56M339.18,300.46V306.88M340.49,300.73V307.14" stroke="#b2b2b2" stroke-width="1.35" fill="none"/>
<path d="M210.80,325.85V327.52M212.11,325.63V327.41M213.42,325.33V327.26M214.73,324.99V327.08M216.04,324.63V326.88M217.35,324.25V326.67M218.66,323.83V326.41M219.97,323.28V326.04M221.28,322.52V325.47M222.59,321.51V324.70M223.90,320.12V323.61M225.21,318.05V321.85M226.52,315.05V319.18M227.83,311.23V315.69M229.14,306.65V311.47M230.45,301.61V306.83M231.76,296.52V302.19M233.07,291.47V297.62M234.38,286.18V292.83M235.69,280.64V287.80M237.00,275.23V283.00M238.31,269.91V278.51M239.62,264.26V273.94M240.93,258.42V269.31M242.24,252.98V265.04M243.55,248.44V261.55M244.86,244.91V258.90M246.17,242.31V256.89M247.48,240.40V255.23M248.79,239.01V253.88M250.10,238.07V252.86M251.41,237.54V252.16M252.72,237.40V251.78M254.03,237.64V251.73M255.34,238.20V251.99M256.65,239.04V252.55M257.96,240.08V253.33M259.27,241.30V254.32M260.58,242.70V255.50M261.89,244.24V256.81M263.20,245.86V258.16M264.51,247.51V259.49M265.82,249.14V260.78M267.13,250.75V262.04M268.44,252.34V263.29M269.75,253.94V264.54M271.06,255.56V265.81M272.37,257.22V267.14M273.68,258.97V268.55M274.99,260.80V270.06M276.30,262.68V271.60M277.61,264.55V273.15M278.92,266.37V274.68M280.23,268.07V276.16M281.54,269.63V277.57M282.85,271.07V278.93M284.16,272.44V280.23M285.47,273.71V281.43M286.78,274.87V282.53M288.09,275.96V283.56M289.40,277.01V284.54M290.71,277.99V285.46M292.02,278.92V286.32M293.33,279.82V287.15M294.64,280.68V287.94M295.95,281.48V288.68M297.26,282.25V289.38M298.57,282.99V290.07M299.88,283.72V290.75M301.19,284.45V291.44M302.50,285.17V292.13M303.81,285.89V292.84M305.12,286.63V293.55M306.43,287.38V294.29M307.74,288.15V295.03M309.05,288.92V295.78M310.36,289.68V296.53M311.67,290.45V297.28M312.98,291.21V298.02M314.29,291.93V298.72M315.60,292.57V299.34M316.91,293.13V299.89M318.22,293.66V300.39M319.53,294.16V300.88M320.84,294.67V301.37M322.15,295.18V301.85M323.46,295.68V302.33M324.77,296.15V302.79M326.08,296.60V303.22M327.39,297.01V303.61M328.70,297.42V304.00M330.01,297.82V304.38M331.32,298.22V304.76M332.63,298.62V305.14M333.94,299.00V305.50M335.25,299.38V305.86M336.56,299.75V306.21M337.87,300.11V306.56M339.18,300.46V306.88M340.49,300.73V307.14" stroke="#4a4a4a" stroke-width="0.42" fill="none"/>
<path d="M209.70,325.85h2.20M209.70,327.52h2.20M211.01,325.63h2.20M211.01,327.41h2.20M212.32,325.33h2.20M212.32,327.26h2.20M213.63,324.99h2.20M213.63,327.08h2.20M214.94,324.63h2.20M214.94,326.88h2.20M216.25,324.25h2.20M216.25,326.67h2.20M217.56,323.83h2.20M217.56,326.41h2.20M218.87,323.28h2.20M218.87,326.04h2.20M220.18,322.52h2.20M220.18,325.47h2.20M221.49,321.51h2.20M221.49,324.70h2.20M222.80,320.12h2.20M222.80,323.61h2.20M224.11,318.05h2.20M224.11,321.85h2.20M225.42,315.05h2.20M225.42,319.18h2.20M226.73,311.23h2.20M226.73,315.69h2.20M228.04,306.65h2.20M228.04,311.47h2.20M229.35,301.61h2.20M229.35,306.83h2.20M230.66,296.52h2.20M230.66,302.19h2.20M231.97,291.47h2.20M231.97,297.62h2.20M233.28,286.18h2.20M233.28,292.83h2.20M234.59,280.64h2.20M234.59,287.80h2.20M235.90,275.23h2.20M235.90,283.00h2.20M237.21,269.91h2.20M237.21,278.51h2.20M238.52,264.26h2.20M238.52,273.94h2.20M239.83,258.42h2.20M239.83,269.31h2.20M241.14,252.98h2.20M241.14,265.04h2.20M242.45,248.44h2.20M242.45,261.55h2.20M243.76,244.91h2.20M243.76,258.90h2.20M245.07,242.31h2.20M245.07,256.89h2.20M246.38,240.40h2.20M246.38,255.23h2.20M247.69,239.01h2.20M247.69,253.88h2.20M249.00,238.07h2.20M249.00,252.86h2.20M250.31,237.54h2.20M250.31,252.16h2.20M251.62,237.40h2.20M251.62,251.78h2.20M252.93,237.64h2.20M252.93,251.73h2.20M254.24,238.20h2.20M254.24,251.99h2.20M255.55,239.04h2.20M255.55,252.55h2.20M256.86,240.08h2.20M256.86,253.33h2.20M258.17,241.30h2.20M258.17,254.32h2.20M259.48,242.70h2.20M259.48,255.50h2.20M260.79,244.24h2.20M260.79,256.81h2.20M262.10,245.86h2.20M262.10,258.16h2.20M263.41,247.51h2.20M263.41,259.49h2.20M264.72,249.14h2.20M264.72,260.78h2.20M266.03,250.75h2.20M266.03,262.04h2.20M267.34,252.34h2.20M267.34,263.29h2.20M268.65,253.94h2.20M268.65,264.54h2.20M269.96,255.56h2.20M269.96,265.81h2.20M271.27,257.22h2.20M271.27,267.14h2.20M272.58,258.97h2.20M272.58,268.55h2.20M273.89,260.80h2.20M273.89,270.06h2.20M275.20,262.68h2.20M275.20,271.60h2.20M276.51,264.55h2.20M276.51,273.15h2.20M277.82,266.37h2.20M277.82,274.68h2.20M279.13,268.07h2.20M279.13,276.16h2.20M280.44,269.63h2.20M280.44,277.57h2.20M281.75,271.07h2.20M281.75,278.93h2.20M283.06,272.44h2.20M283.06,280.23h2.20M284.37,273.71h2.20M284.37,281.43h2.20M285.68,274.87h2.20M285.68,282.53h2.20M286.99,275.96h2.20M286.99,283.56h2.20M288.30,277.01h2.20M288.30,284.54h2.20M289.61,277.99h2.20M289.61,285.46h2.20M290.92,278.92h2.20M290.92,286.32h2.20M292.23,279.82h2.20M292.23,287.15h2.20M293.54,280.68h2.20M293.54,287.94h2.20M294.85,281.48h2.20M294.85,288.68h2.20M296.16,282.25h2.20M296.16,289.38h2.20M297.47,282.99h2.20M297.47,290.07h2.20M298.78,283.72h2.20M298.78,290.75h2.20M300.09,284.45h2.20M300.09,291.44h2.20M301.40,285.17h2.20M301.40,292.13h2.20M302.71,285.89h2.20M302.71,292.84h2.20M304.02,286.63h2.20M304.02,293.55h2.20M305.33,287.38h2.20M305.33,294.29h2.20M306.64,288.15h2.20M306.64,295.03h2.20M307.95,288.92h2.20M307.95,295.78h2.20M309.26,289.68h2.20M309.26,296.53h2.20M310.57,290.45h2.20M310.57,297.28h2.20M311.88,291.21h2.20M311.88,298.02h2.20M313.19,291.93h2.20M313.19,298.72h2.20M314.50,292.57h2.20M314.50,299.34h2.20M315.81,293.13h2.20M315.81,299.89h2.20M317.12,293.66h2.20M317.12,300.39h2.20M318.43,294.16h2.20M318.43,300.88h2.20M319.74,294.67h2.20M319.74,301.37h2.20M321.05,295.18h2.20M321.05,301.85h2.20M322.36,295.68h2.20M322.36,302.33h2.20M323.67,296.15h2.20M323.67,302.79h2.20M324.98,296.60h2.20M324.98,303.22h2.20M326.29,297.01h2.20M326.29,303.61h2.20M327.60,297.42h2.20M327.60,304.00h2.20M328.91,297.82h2.20M328.91,304.38h2.20M330.22,298.22h2.20M330.22,304.76h2.20M331.53,298.62h2.20M331.53,305.14h2.20M332.84,299.00h2.20M332.84,305.50h2.20M334.15,299.38h2.20M334.15,305.86h2.20M335.46,299.75h2.20M335.46,306.21h2.20M336.77,300.11h2.20M336.77,306.56h2.20M338.08,300.46h2.20M338.08,306.88h2.20M339.39,300.73h2.20M339.39,307.14h2.20" stroke="#1a1a1a" stroke-width="0.9" fill="none"/>
<path d="M210.80,326.69 L211.80,326.57 L212.80,326.41 L213.80,326.22 L214.80,326.02 L215.80,325.81 L216.80,325.59 L217.80,325.35 L218.80,325.08 L219.80,324.73 L220.80,324.27 L221.80,323.67 L222.80,322.94 L223.80,321.99 L224.80,320.65 L225.80,318.80 L226.80,316.41 L227.80,313.55 L228.80,310.27 L229.80,306.65 L230.80,302.91 L231.80,299.21 L232.80,295.55 L233.80,291.79 L234.80,287.82 L235.80,283.77 L236.80,279.87 L237.80,276.12 L238.80,272.34 L239.80,268.38 L240.80,264.37 L241.80,260.56 L242.80,257.16 L243.80,254.32 L244.80,252.02 L245.80,250.18 L246.80,248.68 L247.80,247.44 L248.80,246.43 L249.80,245.65 L250.80,245.08 L251.80,244.73 L252.80,244.58 L253.80,244.64 L254.80,244.89 L255.80,245.31 L256.80,245.88 L257.80,246.58 L258.80,247.39 L259.80,248.31 L260.80,249.33 L261.80,250.42 L262.80,251.56 L263.80,252.69 L264.80,253.83 L265.80,254.94 L266.80,256.04 L267.80,257.12 L268.80,258.20 L269.80,259.29 L270.80,260.39 L271.80,261.52 L272.80,262.69 L273.80,263.91 L274.80,265.18 L275.80,266.48 L276.80,267.79 L277.80,269.10 L278.80,270.38 L279.80,271.61 L280.80,272.78 L281.80,273.88 L282.80,274.95 L283.80,275.98 L284.80,276.96 L285.80,277.87 L286.80,278.72 L287.80,279.53 L288.80,280.31 L289.80,281.07 L290.80,281.79 L291.80,282.48 L292.80,283.14 L293.80,283.79 L294.80,284.41 L295.80,285.00 L296.80,285.56 L297.80,286.11 L298.80,286.65 L299.80,287.19 L300.80,287.73 L301.80,288.27 L302.80,288.81 L303.80,289.36 L304.80,289.91 L305.80,290.48 L306.80,291.05 L307.80,291.62 L308.80,292.20 L309.80,292.78 L310.80,293.36 L311.80,293.94 L312.80,294.51 L313.80,295.07 L314.80,295.58 L315.80,296.05 L316.80,296.47 L317.80,296.86 L318.80,297.24 L319.80,297.62 L320.80,298.00 L321.80,298.38 L322.80,298.76 L323.80,299.13 L324.80,299.48 L325.80,299.82 L326.80,300.13 L327.80,300.44 L328.80,300.74 L329.80,301.04 L330.80,301.34 L331.80,301.64 L332.80,301.93 L333.80,302.21 L334.80,302.49 L335.80,302.77 L336.80,303.04 L337.80,303.32 L338.80,303.58 L339.80,303.81 L340.80,303.98" stroke="#b3123a" stroke-width="1.8" fill="none" stroke-linejoin="round"/>
<path d="M243.00,230.50V327.00" stroke="#222" stroke-width="1.15" fill="none"/>
<path d="M257.60,230.50V327.00" stroke="#222" stroke-width="1.1" fill="none"/>
<path d="M248,231.2H253.8" stroke="#333" stroke-width="1"/>
<text transform="translate(276.8,351.3) scale(0.68,1)" font-size="9.2" font-weight="bold" text-anchor="middle" fill="#1a1a1a">Time (sec)</text>
<path d="M374.70,226.80V327.90" stroke="#1a1a1a" stroke-width="1.1" fill="none"/>
<path d="M374.20,327.40H508.00" stroke="#1a1a1a" stroke-width="1.1" fill="none"/>
<path d="M371.50,327.30H374.70M371.50,294.50H374.70M371.50,261.70H374.70M371.50,228.80H374.70" stroke="#1a1a1a" stroke-width="1.0" fill="none"/>
<path d="M374.60,327.40V330.20M407.30,327.40V330.20M440.80,327.40V330.20M473.10,327.40V330.20M505.90,327.40V330.20" stroke="#1a1a1a" stroke-width="1.0" fill="none"/>
<text x="369.10" y="329.60" font-size="6.40" text-anchor="end" font-weight="normal" fill="#1a1a1a" stroke="#1a1a1a" stroke-width="0.15" >0</text>
<text x="369.10" y="296.80" font-size="6.40" text-anchor="end" font-weight="normal" fill="#1a1a1a" stroke="#1a1a1a" stroke-width="0.15" >10000</text>
<text x="369.10" y="264.00" font-size="6.40" text-anchor="end" font-weight="normal" fill="#1a1a1a" stroke="#1a1a1a" stroke-width="0.15" >20000</text>
<text x="369.10" y="231.10" font-size="6.40" text-anchor="end" font-weight="normal" fill="#1a1a1a" stroke="#1a1a1a" stroke-width="0.15" >30000</text>
<text x="374.60" y="339.00" font-size="6.40" text-anchor="middle" font-weight="normal" fill="#1a1a1a" stroke="#1a1a1a" stroke-width="0.15" >0</text>
<text x="407.30" y="339.00" font-size="6.40" text-anchor="middle" font-weight="normal" fill="#1a1a1a" stroke="#1a1a1a" stroke-width="0.15" >500</text>
<text x="440.80" y="339.00" font-size="6.40" text-anchor="middle" font-weight="normal" fill="#1a1a1a" stroke="#1a1a1a" stroke-width="0.15" >1000</text>
<text x="473.10" y="339.00" font-size="6.40" text-anchor="middle" font-weight="normal" fill="#1a1a1a" stroke="#1a1a1a" stroke-width="0.15" >1500</text>
<text x="505.90" y="339.00" font-size="6.40" text-anchor="middle" font-weight="normal" fill="#1a1a1a" stroke="#1a1a1a" stroke-width="0.15" >2000</text>
<path d="M374.60,323.19V325.63M375.91,322.68V325.23M377.22,322.01V324.68M378.53,321.26V324.08M379.84,320.39V323.34M381.15,319.44V322.53M382.46,318.46V321.68M383.77,317.33V320.70M385.08,315.89V319.45M386.39,314.16V318.12M387.70,312.21V316.84M389.01,310.05V315.44M390.32,307.98V314.02M391.63,306.43V312.97M392.94,305.31V312.30M394.25,304.40V311.81M395.56,303.75V311.47M396.87,303.27V311.16M398.18,302.82V310.84M399.49,302.36V310.54M400.80,301.87V310.28M402.11,301.34V310.06M403.42,300.81V309.84M404.73,300.28V309.63M406.04,299.77V309.42M407.35,299.34V309.24M408.66,299.02V309.10M409.97,298.75V308.97M411.28,298.48V308.85M412.59,298.21V308.73M413.90,297.95V308.60M415.21,297.72V308.48M416.52,297.54V308.35M417.83,297.38V308.22M419.14,297.22V308.09M420.45,297.06V307.95M421.76,296.90V307.82M423.07,296.74V307.69M424.38,296.56V307.56M425.69,296.35V307.40M427.00,296.10V307.22M428.31,295.84V307.04M429.62,295.58V306.85M430.93,295.31V306.67M432.24,295.05V306.49M433.55,294.79V306.30M434.86,294.55V306.13M436.17,294.33V305.97M437.48,294.13V305.83M438.79,293.93V305.68M440.10,293.74V305.54M441.41,293.54V305.39M442.72,293.34V305.25M444.03,293.14V305.11M445.34,292.91V305.00M446.65,292.65V304.94M447.96,292.38V304.88M449.27,292.10V304.83M450.58,291.83V304.78M451.89,291.55V304.72M453.20,291.28V304.67M454.51,291.03V304.61M455.82,290.86V304.54M457.13,290.74V304.44M458.44,290.65V304.35M459.75,290.55V304.25M461.06,290.45V304.15M462.37,290.36V304.06M463.68,290.26V303.96M464.99,290.14V303.84M466.30,289.97V303.67M467.61,289.79V303.49M468.92,289.60V303.30M470.23,289.42V303.12M471.54,289.27V302.97M472.85,289.16V302.85M474.16,289.07V302.73M475.47,288.97V302.62M476.78,288.87V302.51M478.09,288.78V302.40M479.40,288.68V302.29M480.71,288.58V302.18M482.02,288.49V302.07M483.33,288.39V301.96M484.64,288.29V301.85M485.95,288.20V301.74M487.26,288.10V301.63M488.57,288.00V301.52M489.88,287.90V301.43M491.19,287.80V301.37M492.50,287.68V301.34M493.81,287.57V301.30M495.12,287.45V301.27M496.43,287.34V301.24M497.74,287.22V301.21M499.05,287.11V301.17M500.36,286.99V301.14M501.67,286.88V301.11M502.98,286.76V301.08M504.29,286.65V301.04M505.60,286.57V301.02" stroke="#b2b2b2" stroke-width="1.35" fill="none"/>
<path d="M374.60,323.19V325.63M375.91,322.68V325.23M377.22,322.01V324.68M378.53,321.26V324.08M379.84,320.39V323.34M381.15,319.44V322.53M382.46,318.46V321.68M383.77,317.33V320.70M385.08,315.89V319.45M386.39,314.16V318.12M387.70,312.21V316.84M389.01,310.05V315.44M390.32,307.98V314.02M391.63,306.43V312.97M392.94,305.31V312.30M394.25,304.40V311.81M395.56,303.75V311.47M396.87,303.27V311.16M398.18,302.82V310.84M399.49,302.36V310.54M400.80,301.87V310.28M402.11,301.34V310.06M403.42,300.81V309.84M404.73,300.28V309.63M406.04,299.77V309.42M407.35,299.34V309.24M408.66,299.02V309.10M409.97,298.75V308.97M411.28,298.48V308.85M412.59,298.21V308.73M413.90,297.95V308.60M415.21,297.72V308.48M416.52,297.54V308.35M417.83,297.38V308.22M419.14,297.22V308.09M420.45,297.06V307.95M421.76,296.90V307.82M423.07,296.74V307.69M424.38,296.56V307.56M425.69,296.35V307.40M427.00,296.10V307.22M428.31,295.84V307.04M429.62,295.58V306.85M430.93,295.31V306.67M432.24,295.05V306.49M433.55,294.79V306.30M434.86,294.55V306.13M436.17,294.33V305.97M437.48,294.13V305.83M438.79,293.93V305.68M440.10,293.74V305.54M441.41,293.54V305.39M442.72,293.34V305.25M444.03,293.14V305.11M445.34,292.91V305.00M446.65,292.65V304.94M447.96,292.38V304.88M449.27,292.10V304.83M450.58,291.83V304.78M451.89,291.55V304.72M453.20,291.28V304.67M454.51,291.03V304.61M455.82,290.86V304.54M457.13,290.74V304.44M458.44,290.65V304.35M459.75,290.55V304.25M461.06,290.45V304.15M462.37,290.36V304.06M463.68,290.26V303.96M464.99,290.14V303.84M466.30,289.97V303.67M467.61,289.79V303.49M468.92,289.60V303.30M470.23,289.42V303.12M471.54,289.27V302.97M472.85,289.16V302.85M474.16,289.07V302.73M475.47,288.97V302.62M476.78,288.87V302.51M478.09,288.78V302.40M479.40,288.68V302.29M480.71,288.58V302.18M482.02,288.49V302.07M483.33,288.39V301.96M484.64,288.29V301.85M485.95,288.20V301.74M487.26,288.10V301.63M488.57,288.00V301.52M489.88,287.90V301.43M491.19,287.80V301.37M492.50,287.68V301.34M493.81,287.57V301.30M495.12,287.45V301.27M496.43,287.34V301.24M497.74,287.22V301.21M499.05,287.11V301.17M500.36,286.99V301.14M501.67,286.88V301.11M502.98,286.76V301.08M504.29,286.65V301.04M505.60,286.57V301.02" stroke="#4a4a4a" stroke-width="0.42" fill="none"/>
<path d="M373.50,323.19h2.20M373.50,325.63h2.20M374.81,322.68h2.20M374.81,325.23h2.20M376.12,322.01h2.20M376.12,324.68h2.20M377.43,321.26h2.20M377.43,324.08h2.20M378.74,320.39h2.20M378.74,323.34h2.20M380.05,319.44h2.20M380.05,322.53h2.20M381.36,318.46h2.20M381.36,321.68h2.20M382.67,317.33h2.20M382.67,320.70h2.20M383.98,315.89h2.20M383.98,319.45h2.20M385.29,314.16h2.20M385.29,318.12h2.20M386.60,312.21h2.20M386.60,316.84h2.20M387.91,310.05h2.20M387.91,315.44h2.20M389.22,307.98h2.20M389.22,314.02h2.20M390.53,306.43h2.20M390.53,312.97h2.20M391.84,305.31h2.20M391.84,312.30h2.20M393.15,304.40h2.20M393.15,311.81h2.20M394.46,303.75h2.20M394.46,311.47h2.20M395.77,303.27h2.20M395.77,311.16h2.20M397.08,302.82h2.20M397.08,310.84h2.20M398.39,302.36h2.20M398.39,310.54h2.20M399.70,301.87h2.20M399.70,310.28h2.20M401.01,301.34h2.20M401.01,310.06h2.20M402.32,300.81h2.20M402.32,309.84h2.20M403.63,300.28h2.20M403.63,309.63h2.20M404.94,299.77h2.20M404.94,309.42h2.20M406.25,299.34h2.20M406.25,309.24h2.20M407.56,299.02h2.20M407.56,309.10h2.20M408.87,298.75h2.20M408.87,308.97h2.20M410.18,298.48h2.20M410.18,308.85h2.20M411.49,298.21h2.20M411.49,308.73h2.20M412.80,297.95h2.20M412.80,308.60h2.20M414.11,297.72h2.20M414.11,308.48h2.20M415.42,297.54h2.20M415.42,308.35h2.20M416.73,297.38h2.20M416.73,308.22h2.20M418.04,297.22h2.20M418.04,308.09h2.20M419.35,297.06h2.20M419.35,307.95h2.20M420.66,296.90h2.20M420.66,307.82h2.20M421.97,296.74h2.20M421.97,307.69h2.20M423.28,296.56h2.20M423.28,307.56h2.20M424.59,296.35h2.20M424.59,307.40h2.20M425.90,296.10h2.20M425.90,307.22h2.20M427.21,295.84h2.20M427.21,307.04h2.20M428.52,295.58h2.20M428.52,306.85h2.20M429.83,295.31h2.20M429.83,306.67h2.20M431.14,295.05h2.20M431.14,306.49h2.20M432.45,294.79h2.20M432.45,306.30h2.20M433.76,294.55h2.20M433.76,306.13h2.20M435.07,294.33h2.20M435.07,305.97h2.20M436.38,294.13h2.20M436.38,305.83h2.20M437.69,293.93h2.20M437.69,305.68h2.20M439.00,293.74h2.20M439.00,305.54h2.20M440.31,293.54h2.20M440.31,305.39h2.20M441.62,293.34h2.20M441.62,305.25h2.20M442.93,293.14h2.20M442.93,305.11h2.20M444.24,292.91h2.20M444.24,305.00h2.20M445.55,292.65h2.20M445.55,304.94h2.20M446.86,292.38h2.20M446.86,304.88h2.20M448.17,292.10h2.20M448.17,304.83h2.20M449.48,291.83h2.20M449.48,304.78h2.20M450.79,291.55h2.20M450.79,304.72h2.20M452.10,291.28h2.20M452.10,304.67h2.20M453.41,291.03h2.20M453.41,304.61h2.20M454.72,290.86h2.20M454.72,304.54h2.20M456.03,290.74h2.20M456.03,304.44h2.20M457.34,290.65h2.20M457.34,304.35h2.20M458.65,290.55h2.20M458.65,304.25h2.20M459.96,290.45h2.20M459.96,304.15h2.20M461.27,290.36h2.20M461.27,304.06h2.20M462.58,290.26h2.20M462.58,303.96h2.20M463.89,290.14h2.20M463.89,303.84h2.20M465.20,289.97h2.20M465.20,303.67h2.20M466.51,289.79h2.20M466.51,303.49h2.20M467.82,289.60h2.20M467.82,303.30h2.20M469.13,289.42h2.20M469.13,303.12h2.20M470.44,289.27h2.20M470.44,302.97h2.20M471.75,289.16h2.20M471.75,302.85h2.20M473.06,289.07h2.20M473.06,302.73h2.20M474.37,288.97h2.20M474.37,302.62h2.20M475.68,288.87h2.20M475.68,302.51h2.20M476.99,288.78h2.20M476.99,302.40h2.20M478.30,288.68h2.20M478.30,302.29h2.20M479.61,288.58h2.20M479.61,302.18h2.20M480.92,288.49h2.20M480.92,302.07h2.20M482.23,288.39h2.20M482.23,301.96h2.20M483.54,288.29h2.20M483.54,301.85h2.20M484.85,288.20h2.20M484.85,301.74h2.20M486.16,288.10h2.20M486.16,301.63h2.20M487.47,288.00h2.20M487.47,301.52h2.20M488.78,287.90h2.20M488.78,301.43h2.20M490.09,287.80h2.20M490.09,301.37h2.20M491.40,287.68h2.20M491.40,301.34h2.20M492.71,287.57h2.20M492.71,301.30h2.20M494.02,287.45h2.20M494.02,301.27h2.20M495.33,287.34h2.20M495.33,301.24h2.20M496.64,287.22h2.20M496.64,301.21h2.20M497.95,287.11h2.20M497.95,301.17h2.20M499.26,286.99h2.20M499.26,301.14h2.20M500.57,286.88h2.20M500.57,301.11h2.20M501.88,286.76h2.20M501.88,301.08h2.20M503.19,286.65h2.20M503.19,301.04h2.20M504.50,286.57h2.20M504.50,301.02h2.20" stroke="#1a1a1a" stroke-width="0.9" fill="none"/>
<path d="M374.60,324.41 L375.60,324.09 L376.60,323.64 L377.60,323.16 L378.60,322.63 L379.60,322.03 L380.60,321.36 L381.60,320.68 L382.60,319.97 L383.60,319.17 L384.60,318.20 L385.60,317.07 L386.60,315.89 L387.60,314.66 L388.60,313.32 L389.60,311.92 L390.60,310.66 L391.60,309.71 L392.60,308.99 L393.60,308.39 L394.60,307.90 L395.60,307.53 L396.60,307.20 L397.60,306.87 L398.60,306.56 L399.60,306.26 L400.60,306.00 L401.60,305.77 L402.60,305.57 L403.60,305.36 L404.60,305.15 L405.60,304.95 L406.60,304.75 L407.60,304.55 L408.60,304.36 L409.60,304.18 L410.60,304.00 L411.60,303.82 L412.60,303.64 L413.60,303.46 L414.60,303.29 L415.60,303.15 L416.60,303.04 L417.60,302.94 L418.60,302.84 L419.60,302.74 L420.60,302.64 L421.60,302.54 L422.60,302.44 L423.60,302.34 L424.60,302.23 L425.60,302.11 L426.60,301.98 L427.60,301.84 L428.60,301.70 L429.60,301.56 L430.60,301.42 L431.60,301.28 L432.60,301.14 L433.60,301.00 L434.60,300.85 L435.60,300.71 L436.60,300.56 L437.60,300.41 L438.60,300.26 L439.60,300.11 L440.60,299.96 L441.60,299.81 L442.60,299.66 L443.60,299.51 L444.60,299.38 L445.60,299.26 L446.60,299.17 L447.60,299.09 L448.60,299.01 L449.60,298.93 L450.60,298.85 L451.60,298.77 L452.60,298.69 L453.60,298.61 L454.60,298.53 L455.60,298.45 L456.60,298.37 L457.60,298.29 L458.60,298.21 L459.60,298.13 L460.60,298.05 L461.60,297.97 L462.60,297.89 L463.60,297.81 L464.60,297.72 L465.60,297.60 L466.60,297.46 L467.60,297.31 L468.60,297.16 L469.60,297.01 L470.60,296.87 L471.60,296.75 L472.60,296.65 L473.60,296.55 L474.60,296.46 L475.60,296.36 L476.60,296.27 L477.60,296.17 L478.60,296.08 L479.60,295.99 L480.60,295.89 L481.60,295.80 L482.60,295.70 L483.60,295.61 L484.60,295.51 L485.60,295.42 L486.60,295.32 L487.60,295.23 L488.60,295.13 L489.60,295.05 L490.60,294.97 L491.60,294.91 L492.60,294.85 L493.60,294.80 L494.60,294.74 L495.60,294.69 L496.60,294.63 L497.60,294.57 L498.60,294.52 L499.60,294.46 L500.60,294.40 L501.60,294.35 L502.60,294.29 L503.60,294.24 L504.60,294.18 L505.60,294.14" stroke="#2c5193" stroke-width="1.3" fill="none" stroke-linejoin="round"/>
<path d="M374.60,319.00V322.04M375.91,318.27V321.39M377.22,317.31V320.54M378.53,316.28V319.63M379.84,315.18V318.64M381.15,314.03V317.60M382.46,312.85V316.54M383.77,311.53V315.33M385.08,309.83V313.82M386.39,307.33V311.78M387.70,303.43V308.72M389.01,298.02V304.33M390.32,291.44V298.97M391.63,283.96V293.00M392.94,275.91V286.62M394.25,268.05V280.59M395.56,260.73V275.30M396.87,254.69V271.04M398.18,250.73V268.17M399.49,248.53V266.64M400.80,247.50V266.31M402.11,247.31V266.84M403.42,247.90V267.82M404.73,248.95V268.83M406.04,250.17V269.78M407.35,251.30V270.40M408.66,252.25V270.74M409.97,252.93V271.02M411.28,253.13V271.24M412.59,252.99V271.34M413.90,252.63V271.26M415.21,252.06V270.97M416.52,251.40V270.61M417.83,250.74V270.27M419.14,250.10V270.00M420.45,249.43V269.79M421.76,248.71V269.57M423.07,247.98V269.49M424.38,247.30V269.62M425.69,246.76V269.57M427.00,246.36V269.21M428.31,246.01V268.78M429.62,245.67V268.35M430.93,245.38V267.97M432.24,245.12V267.62M433.55,244.88V267.28M434.86,244.65V266.96M436.17,244.45V266.69M437.48,244.28V266.45M438.79,244.11V266.22M440.10,243.97V266.00M441.41,243.88V265.80M442.72,243.81V265.62M444.03,243.76V265.43M445.34,243.75V265.23M446.65,243.80V265.00M447.96,243.88V264.77M449.27,243.97V264.54M450.58,244.10V264.33M451.89,244.27V264.15M453.20,244.45V263.98M454.51,244.63V263.81M455.82,244.81V263.64M457.13,245.00V263.47M458.44,245.19V263.30M459.75,245.42V263.12M461.06,245.76V262.90M462.37,246.18V262.67M463.68,246.60V262.43M464.99,247.03V262.19M466.30,247.46V261.95M467.61,247.89V261.72M468.92,248.32V261.48M470.23,248.74V261.28M471.54,249.15V261.22M472.85,249.53V261.33M474.16,249.91V261.49M475.47,250.29V261.65M476.78,250.67V261.81M478.09,251.05V261.97M479.40,251.41V262.16M480.71,251.71V262.46M482.02,251.96V262.87M483.33,252.20V263.30M484.64,252.44V263.73M485.95,252.67V264.16M487.26,252.91V264.60M488.57,253.14V265.03M489.88,253.35V265.48M491.19,253.53V265.96M492.50,253.67V266.45M493.81,253.82V266.95M495.12,253.96V267.45M496.43,254.11V267.94M497.74,254.25V268.44M499.05,254.39V268.93M500.36,254.52V269.38M501.67,254.64V269.77M502.98,254.75V270.14M504.29,254.85V270.50M505.60,254.93V270.78" stroke="#b2b2b2" stroke-width="1.35" fill="none"/>
<path d="M374.60,319.00V322.04M375.91,318.27V321.39M377.22,317.31V320.54M378.53,316.28V319.63M379.84,315.18V318.64M381.15,314.03V317.60M382.46,312.85V316.54M383.77,311.53V315.33M385.08,309.83V313.82M386.39,307.33V311.78M387.70,303.43V308.72M389.01,298.02V304.33M390.32,291.44V298.97M391.63,283.96V293.00M392.94,275.91V286.62M394.25,268.05V280.59M395.56,260.73V275.30M396.87,254.69V271.04M398.18,250.73V268.17M399.49,248.53V266.64M400.80,247.50V266.31M402.11,247.31V266.84M403.42,247.90V267.82M404.73,248.95V268.83M406.04,250.17V269.78M407.35,251.30V270.40M408.66,252.25V270.74M409.97,252.93V271.02M411.28,253.13V271.24M412.59,252.99V271.34M413.90,252.63V271.26M415.21,252.06V270.97M416.52,251.40V270.61M417.83,250.74V270.27M419.14,250.10V270.00M420.45,249.43V269.79M421.76,248.71V269.57M423.07,247.98V269.49M424.38,247.30V269.62M425.69,246.76V269.57M427.00,246.36V269.21M428.31,246.01V268.78M429.62,245.67V268.35M430.93,245.38V267.97M432.24,245.12V267.62M433.55,244.88V267.28M434.86,244.65V266.96M436.17,244.45V266.69M437.48,244.28V266.45M438.79,244.11V266.22M440.10,243.97V266.00M441.41,243.88V265.80M442.72,243.81V265.62M444.03,243.76V265.43M445.34,243.75V265.23M446.65,243.80V265.00M447.96,243.88V264.77M449.27,243.97V264.54M450.58,244.10V264.33M451.89,244.27V264.15M453.20,244.45V263.98M454.51,244.63V263.81M455.82,244.81V263.64M457.13,245.00V263.47M458.44,245.19V263.30M459.75,245.42V263.12M461.06,245.76V262.90M462.37,246.18V262.67M463.68,246.60V262.43M464.99,247.03V262.19M466.30,247.46V261.95M467.61,247.89V261.72M468.92,248.32V261.48M470.23,248.74V261.28M471.54,249.15V261.22M472.85,249.53V261.33M474.16,249.91V261.49M475.47,250.29V261.65M476.78,250.67V261.81M478.09,251.05V261.97M479.40,251.41V262.16M480.71,251.71V262.46M482.02,251.96V262.87M483.33,252.20V263.30M484.64,252.44V263.73M485.95,252.67V264.16M487.26,252.91V264.60M488.57,253.14V265.03M489.88,253.35V265.48M491.19,253.53V265.96M492.50,253.67V266.45M493.81,253.82V266.95M495.12,253.96V267.45M496.43,254.11V267.94M497.74,254.25V268.44M499.05,254.39V268.93M500.36,254.52V269.38M501.67,254.64V269.77M502.98,254.75V270.14M504.29,254.85V270.50M505.60,254.93V270.78" stroke="#4a4a4a" stroke-width="0.42" fill="none"/>
<path d="M373.50,319.00h2.20M373.50,322.04h2.20M374.81,318.27h2.20M374.81,321.39h2.20M376.12,317.31h2.20M376.12,320.54h2.20M377.43,316.28h2.20M377.43,319.63h2.20M378.74,315.18h2.20M378.74,318.64h2.20M380.05,314.03h2.20M380.05,317.60h2.20M381.36,312.85h2.20M381.36,316.54h2.20M382.67,311.53h2.20M382.67,315.33h2.20M383.98,309.83h2.20M383.98,313.82h2.20M385.29,307.33h2.20M385.29,311.78h2.20M386.60,303.43h2.20M386.60,308.72h2.20M387.91,298.02h2.20M387.91,304.33h2.20M389.22,291.44h2.20M389.22,298.97h2.20M390.53,283.96h2.20M390.53,293.00h2.20M391.84,275.91h2.20M391.84,286.62h2.20M393.15,268.05h2.20M393.15,280.59h2.20M394.46,260.73h2.20M394.46,275.30h2.20M395.77,254.69h2.20M395.77,271.04h2.20M397.08,250.73h2.20M397.08,268.17h2.20M398.39,248.53h2.20M398.39,266.64h2.20M399.70,247.50h2.20M399.70,266.31h2.20M401.01,247.31h2.20M401.01,266.84h2.20M402.32,247.90h2.20M402.32,267.82h2.20M403.63,248.95h2.20M403.63,268.83h2.20M404.94,250.17h2.20M404.94,269.78h2.20M406.25,251.30h2.20M406.25,270.40h2.20M407.56,252.25h2.20M407.56,270.74h2.20M408.87,252.93h2.20M408.87,271.02h2.20M410.18,253.13h2.20M410.18,271.24h2.20M411.49,252.99h2.20M411.49,271.34h2.20M412.80,252.63h2.20M412.80,271.26h2.20M414.11,252.06h2.20M414.11,270.97h2.20M415.42,251.40h2.20M415.42,270.61h2.20M416.73,250.74h2.20M416.73,270.27h2.20M418.04,250.10h2.20M418.04,270.00h2.20M419.35,249.43h2.20M419.35,269.79h2.20M420.66,248.71h2.20M420.66,269.57h2.20M421.97,247.98h2.20M421.97,269.49h2.20M423.28,247.30h2.20M423.28,269.62h2.20M424.59,246.76h2.20M424.59,269.57h2.20M425.90,246.36h2.20M425.90,269.21h2.20M427.21,246.01h2.20M427.21,268.78h2.20M428.52,245.67h2.20M428.52,268.35h2.20M429.83,245.38h2.20M429.83,267.97h2.20M431.14,245.12h2.20M431.14,267.62h2.20M432.45,244.88h2.20M432.45,267.28h2.20M433.76,244.65h2.20M433.76,266.96h2.20M435.07,244.45h2.20M435.07,266.69h2.20M436.38,244.28h2.20M436.38,266.45h2.20M437.69,244.11h2.20M437.69,266.22h2.20M439.00,243.97h2.20M439.00,266.00h2.20M440.31,243.88h2.20M440.31,265.80h2.20M441.62,243.81h2.20M441.62,265.62h2.20M442.93,243.76h2.20M442.93,265.43h2.20M444.24,243.75h2.20M444.24,265.23h2.20M445.55,243.80h2.20M445.55,265.00h2.20M446.86,243.88h2.20M446.86,264.77h2.20M448.17,243.97h2.20M448.17,264.54h2.20M449.48,244.10h2.20M449.48,264.33h2.20M450.79,244.27h2.20M450.79,264.15h2.20M452.10,244.45h2.20M452.10,263.98h2.20M453.41,244.63h2.20M453.41,263.81h2.20M454.72,244.81h2.20M454.72,263.64h2.20M456.03,245.00h2.20M456.03,263.47h2.20M457.34,245.19h2.20M457.34,263.30h2.20M458.65,245.42h2.20M458.65,263.12h2.20M459.96,245.76h2.20M459.96,262.90h2.20M461.27,246.18h2.20M461.27,262.67h2.20M462.58,246.60h2.20M462.58,262.43h2.20M463.89,247.03h2.20M463.89,262.19h2.20M465.20,247.46h2.20M465.20,261.95h2.20M466.51,247.89h2.20M466.51,261.72h2.20M467.82,248.32h2.20M467.82,261.48h2.20M469.13,248.74h2.20M469.13,261.28h2.20M470.44,249.15h2.20M470.44,261.22h2.20M471.75,249.53h2.20M471.75,261.33h2.20M473.06,249.91h2.20M473.06,261.49h2.20M474.37,250.29h2.20M474.37,261.65h2.20M475.68,250.67h2.20M475.68,261.81h2.20M476.99,251.05h2.20M476.99,261.97h2.20M478.30,251.41h2.20M478.30,262.16h2.20M479.61,251.71h2.20M479.61,262.46h2.20M480.92,251.96h2.20M480.92,262.87h2.20M482.23,252.20h2.20M482.23,263.30h2.20M483.54,252.44h2.20M483.54,263.73h2.20M484.85,252.67h2.20M484.85,264.16h2.20M486.16,252.91h2.20M486.16,264.60h2.20M487.47,253.14h2.20M487.47,265.03h2.20M488.78,253.35h2.20M488.78,265.48h2.20M490.09,253.53h2.20M490.09,265.96h2.20M491.40,253.67h2.20M491.40,266.45h2.20M492.71,253.82h2.20M492.71,266.95h2.20M494.02,253.96h2.20M494.02,267.45h2.20M495.33,254.11h2.20M495.33,267.94h2.20M496.64,254.25h2.20M496.64,268.44h2.20M497.95,254.39h2.20M497.95,268.93h2.20M499.26,254.52h2.20M499.26,269.38h2.20M500.57,254.64h2.20M500.57,269.77h2.20M501.88,254.75h2.20M501.88,270.14h2.20M503.19,254.85h2.20M503.19,270.50h2.20M504.50,254.93h2.20M504.50,270.78h2.20" stroke="#1a1a1a" stroke-width="0.9" fill="none"/>
<path d="M374.60,320.52 L375.60,320.03 L376.60,319.37 L377.60,318.65 L378.60,317.90 L379.60,317.11 L380.60,316.28 L381.60,315.44 L382.60,314.57 L383.60,313.62 L384.60,312.47 L385.60,311.04 L386.60,309.11 L387.60,306.41 L388.60,302.86 L389.60,298.60 L390.60,293.84 L391.60,288.64 L392.60,283.15 L393.60,277.73 L394.60,272.68 L395.60,268.10 L396.60,264.17 L397.60,261.22 L398.60,259.25 L399.60,258.00 L400.60,257.27 L401.60,256.94 L402.60,257.04 L403.60,257.53 L404.60,258.27 L405.60,259.15 L406.60,260.05 L407.60,260.85 L408.60,261.55 L409.60,262.14 L410.60,262.55 L411.60,262.75 L412.60,262.81 L413.60,262.76 L414.60,262.58 L415.60,262.31 L416.60,262.02 L417.60,261.73 L418.60,261.45 L419.60,261.16 L420.60,260.80 L421.60,260.39 L422.60,259.96 L423.60,259.52 L424.60,259.10 L425.60,258.71 L426.60,258.36 L427.60,258.02 L428.60,257.68 L429.60,257.35 L430.60,257.06 L431.60,256.79 L432.60,256.52 L433.60,256.27 L434.60,256.02 L435.60,255.81 L436.60,255.61 L437.60,255.43 L438.60,255.25 L439.60,255.09 L440.60,254.95 L441.60,254.84 L442.60,254.74 L443.60,254.64 L444.60,254.55 L445.60,254.49 L446.60,254.44 L447.60,254.40 L448.60,254.36 L449.60,254.32 L450.60,254.29 L451.60,254.27 L452.60,254.25 L453.60,254.23 L454.60,254.21 L455.60,254.19 L456.60,254.17 L457.60,254.15 L458.60,254.13 L459.60,254.14 L460.60,254.19 L461.60,254.29 L462.60,254.41 L463.60,254.53 L464.60,254.64 L465.60,254.76 L466.60,254.88 L467.60,255.00 L468.60,255.12 L469.60,255.24 L470.60,255.36 L471.60,255.51 L472.60,255.67 L473.60,255.83 L474.60,256.00 L475.60,256.17 L476.60,256.33 L477.60,256.50 L478.60,256.67 L479.60,256.85 L480.60,257.06 L481.60,257.30 L482.60,257.55 L483.60,257.80 L484.60,258.05 L485.60,258.30 L486.60,258.55 L487.60,258.80 L488.60,259.05 L489.60,259.29 L490.60,259.53 L491.60,259.75 L492.60,259.97 L493.60,260.19 L494.60,260.41 L495.60,260.63 L496.60,260.85 L497.60,261.07 L498.60,261.30 L499.60,261.53 L500.60,261.81 L501.60,262.11 L502.60,262.42 L503.60,262.74 L504.60,263.03 L505.60,263.25" stroke="#b3123a" stroke-width="1.5" fill="none" stroke-linejoin="round"/>
<path d="M407.30,228.00V327.30" stroke="#222" stroke-width="1.1" fill="none"/>
<path d="M471.10,228.00V327.30" stroke="#222" stroke-width="1.1" fill="none"/>
<rect x="437.15" y="235.15" width="1.3" height="1.3" fill="#333"/>
<rect x="438.95" y="235.15" width="1.3" height="1.3" fill="#333"/>
<rect x="397.3" y="351.2" width="8.6" height="6.2" fill="#274a8a"/>
<text x="409" y="356.6" font-size="5.2" fill="#000" stroke="#000" stroke-width="0.12" font-style="italic">hamp1<tspan font-size="3.4" dy="-2.4">lox/lox</tspan></text>
<rect x="447" y="351.4" width="8.8" height="5.8" fill="#b00f33"/>
<text x="459" y="356.6" font-size="5.2" fill="#000" stroke="#000" stroke-width="0.12" font-style="italic">hamp1&#916;<tspan font-size="3.4" dy="-2.4">liver</tspan></text>
<rect x="0" y="0" width="520" height="1.05" fill="#000"/><rect x="0" y="0" width="1.05" height="364" fill="#000"/>
<rect x="518.7" y="0" width="1.3" height="364" fill="#000"/><rect x="0" y="362.4" width="520" height="1.6" fill="#000"/>
</svg>
</body></html>
